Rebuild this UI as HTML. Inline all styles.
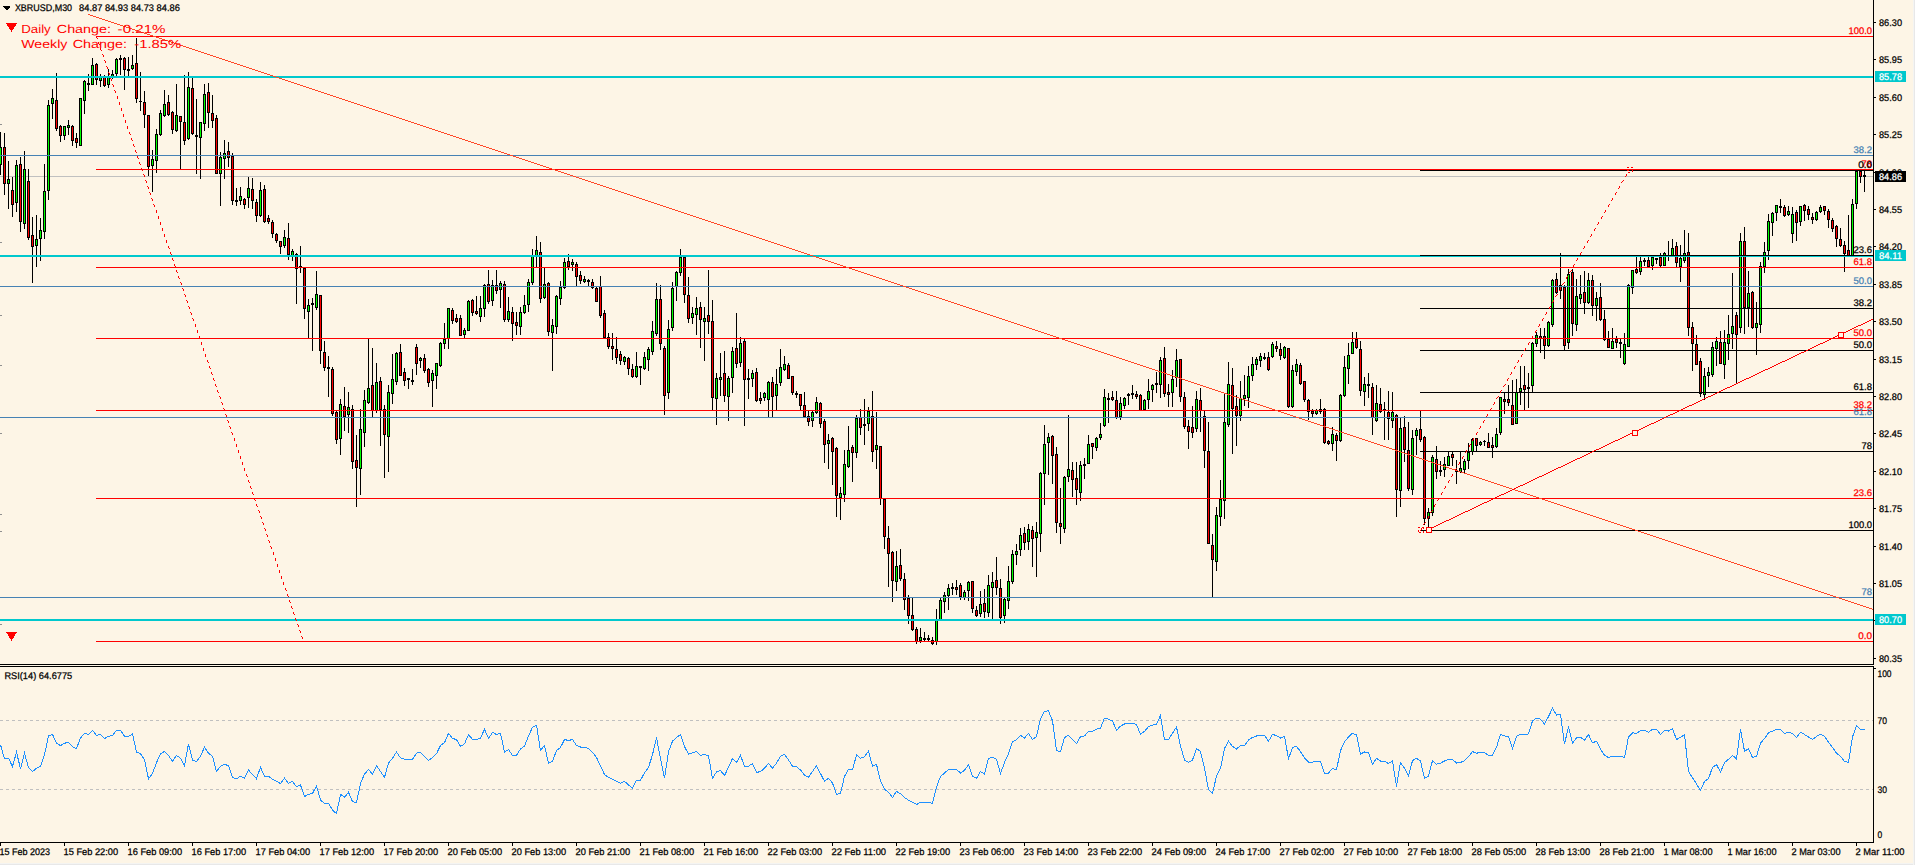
<!DOCTYPE html>
<html><head><meta charset="utf-8"><title>XBRUSD,M30</title>
<style>
html,body{margin:0;padding:0;background:#FDF5E6;overflow:hidden}
svg{display:block;font-family:"Liberation Sans",sans-serif}
</style></head><body>
<svg width="1915" height="865" viewBox="0 0 1915 865" shape-rendering="crispEdges" text-rendering="geometricPrecision">
<rect x="0" y="0" width="1915" height="865" fill="#FDF5E6"/>
<rect x="0" y="176" width="1873" height="1" fill="#C0C0C0"/>
<path d="M0 132h1v43h-1zM4 133h1v62h-1zM8 161h1v48h-1zM12 177h1v40h-1zM16 160h1v52h-1zM20 157h1v75h-1zM24 151h1v78h-1zM28 169h1v71h-1zM32 217h1v66h-1zM36 215h1v52h-1zM40 218h1v43h-1zM44 164h1v75h-1zM48 100h1v100h-1zM52 89h1v30h-1zM56 73h1v58h-1zM60 125h1v17h-1zM64 126h1v14h-1zM68 120h1v15h-1zM72 125h1v21h-1zM76 133h1v15h-1zM80 98h1v48h-1zM84 80h1v34h-1zM88 74h1v17h-1zM92 58h1v27h-1zM96 63h1v22h-1zM100 74h1v13h-1zM104 75h1v12h-1zM108 69h1v19h-1zM112 70h1v9h-1zM116 58h1v19h-1zM120 55h1v20h-1zM124 57h1v33h-1zM128 57h1v20h-1zM132 55h1v15h-1zM136 38h1v65h-1zM140 72h1v39h-1zM144 91h1v37h-1zM148 115h1v61h-1zM152 150h1v42h-1zM156 129h1v44h-1zM160 110h1v26h-1zM164 90h1v27h-1zM168 95h1v21h-1zM172 111h1v23h-1zM176 84h1v48h-1zM180 116h1v54h-1zM184 75h1v70h-1zM188 72h1v68h-1zM192 78h1v57h-1zM196 99h1v75h-1zM200 122h1v57h-1zM204 84h1v47h-1zM208 83h1v45h-1zM212 95h1v33h-1zM216 115h1v59h-1zM220 152h1v54h-1zM224 140h1v39h-1zM228 142h1v25h-1zM232 153h1v52h-1zM236 188h1v18h-1zM240 187h1v18h-1zM244 198h1v11h-1zM248 177h1v31h-1zM252 178h1v31h-1zM256 199h1v23h-1zM260 182h1v35h-1zM264 185h1v38h-1zM268 215h1v9h-1zM272 220h1v18h-1zM276 233h1v10h-1zM280 241h1v13h-1zM284 230h1v18h-1zM288 223h1v37h-1zM292 249h1v12h-1zM296 253h1v51h-1zM300 246h1v27h-1zM304 267h1v52h-1zM308 299h1v40h-1zM312 298h1v53h-1zM316 271h1v39h-1zM320 295h1v69h-1zM324 341h1v30h-1zM328 356h1v41h-1zM332 367h1v49h-1zM336 411h1v33h-1zM340 399h1v56h-1zM344 387h1v44h-1zM348 392h1v41h-1zM352 405h1v64h-1zM356 435h1v72h-1zM360 409h1v86h-1zM364 390h1v57h-1zM368 339h1v65h-1zM372 348h1v70h-1zM376 363h1v50h-1zM380 377h1v69h-1zM384 405h1v73h-1zM388 385h1v87h-1zM392 354h1v50h-1zM396 352h1v33h-1zM400 344h1v32h-1zM404 368h1v18h-1zM408 378h1v11h-1zM412 369h1v16h-1zM416 344h1v31h-1zM420 357h1v11h-1zM424 354h1v19h-1zM428 368h1v19h-1zM432 370h1v37h-1zM436 363h1v26h-1zM440 342h1v25h-1zM444 323h1v26h-1zM448 308h1v41h-1zM452 308h1v16h-1zM456 314h1v9h-1zM460 315h1v21h-1zM464 328h1v11h-1zM468 300h1v31h-1zM472 299h1v17h-1zM476 296h1v19h-1zM480 296h1v26h-1zM484 284h1v33h-1zM488 270h1v34h-1zM492 280h1v26h-1zM496 270h1v24h-1zM500 281h1v27h-1zM504 281h1v41h-1zM508 297h1v25h-1zM512 307h1v34h-1zM516 312h1v23h-1zM520 307h1v28h-1zM524 295h1v19h-1zM528 279h1v33h-1zM532 249h1v36h-1zM536 236h1v32h-1zM540 242h1v61h-1zM544 268h1v31h-1zM548 282h1v54h-1zM552 319h1v52h-1zM556 295h1v39h-1zM560 281h1v24h-1zM564 258h1v31h-1zM568 254h1v16h-1zM572 259h1v12h-1zM576 262h1v25h-1zM580 271h1v13h-1zM584 276h1v7h-1zM588 279h1v7h-1zM592 279h1v10h-1zM596 286h1v16h-1zM600 276h1v42h-1zM604 310h1v29h-1zM608 333h1v16h-1zM612 333h1v27h-1zM616 337h1v27h-1zM620 351h1v14h-1zM624 356h1v9h-1zM628 357h1v18h-1zM632 364h1v14h-1zM636 352h1v26h-1zM640 366h1v19h-1zM644 352h1v18h-1zM648 347h1v24h-1zM652 321h1v34h-1zM656 283h1v53h-1zM660 285h1v65h-1zM664 346h1v69h-1zM668 320h1v79h-1zM672 282h1v49h-1zM676 271h1v30h-1zM680 249h1v27h-1zM684 256h1v47h-1zM688 277h1v46h-1zM692 307h1v17h-1zM696 297h1v38h-1zM700 302h1v46h-1zM704 307h1v54h-1zM708 270h1v64h-1zM712 300h1v111h-1zM716 373h1v52h-1zM720 353h1v43h-1zM724 351h1v51h-1zM728 376h1v45h-1zM732 347h1v46h-1zM736 313h1v55h-1zM740 337h1v30h-1zM744 339h1v87h-1zM748 369h1v30h-1zM752 370h1v17h-1zM756 368h1v34h-1zM760 392h1v12h-1zM764 392h1v9h-1zM768 381h1v37h-1zM772 377h1v40h-1zM776 369h1v42h-1zM780 349h1v37h-1zM784 356h1v15h-1zM788 363h1v16h-1zM792 376h1v19h-1zM796 391h1v7h-1zM800 394h1v17h-1zM804 392h1v26h-1zM808 411h1v15h-1zM812 410h1v17h-1zM816 397h1v17h-1zM820 402h1v26h-1zM824 419h1v44h-1zM828 434h1v35h-1zM832 437h1v48h-1zM836 447h1v70h-1zM840 487h1v33h-1zM844 450h1v52h-1zM848 426h1v42h-1zM852 445h1v37h-1zM856 415h1v43h-1zM860 409h1v26h-1zM864 399h1v46h-1zM868 407h1v24h-1zM872 391h1v71h-1zM876 412h1v57h-1zM880 446h1v59h-1zM884 498h1v51h-1zM888 526h1v61h-1zM892 551h1v51h-1zM896 551h1v40h-1zM900 549h1v32h-1zM904 573h1v37h-1zM908 595h1v29h-1zM912 598h1v33h-1zM916 627h1v17h-1zM920 628h1v15h-1zM924 632h1v10h-1zM928 635h1v7h-1zM932 637h1v8h-1zM936 609h1v36h-1zM940 598h1v23h-1zM944 592h1v21h-1zM948 584h1v26h-1zM952 583h1v12h-1zM956 580h1v15h-1zM960 583h1v17h-1zM964 590h1v10h-1zM968 581h1v20h-1zM972 581h1v32h-1zM976 606h1v11h-1zM980 591h1v26h-1zM984 589h1v29h-1zM988 575h1v42h-1zM992 572h1v48h-1zM996 557h1v38h-1zM1000 579h1v45h-1zM1004 597h1v26h-1zM1008 566h1v43h-1zM1012 550h1v34h-1zM1016 544h1v21h-1zM1020 528h1v28h-1zM1024 527h1v23h-1zM1028 524h1v26h-1zM1032 526h1v41h-1zM1036 522h1v55h-1zM1040 472h1v80h-1zM1044 425h1v80h-1zM1048 433h1v42h-1zM1052 435h1v49h-1zM1056 447h1v86h-1zM1060 488h1v56h-1zM1064 476h1v57h-1zM1068 415h1v67h-1zM1072 462h1v35h-1zM1076 462h1v43h-1zM1080 461h1v40h-1zM1084 458h1v21h-1zM1088 435h1v29h-1zM1092 443h1v16h-1zM1096 437h1v14h-1zM1100 423h1v17h-1zM1104 389h1v38h-1zM1108 393h1v30h-1zM1112 391h1v10h-1zM1116 391h1v28h-1zM1120 397h1v23h-1zM1124 397h1v12h-1zM1128 393h1v12h-1zM1132 385h1v14h-1zM1136 391h1v8h-1zM1140 394h1v17h-1zM1144 399h1v12h-1zM1148 379h1v30h-1zM1152 384h1v18h-1zM1156 372h1v21h-1zM1160 357h1v41h-1zM1164 347h1v50h-1zM1168 384h1v23h-1zM1172 370h1v37h-1zM1176 349h1v38h-1zM1180 359h1v43h-1zM1184 392h1v37h-1zM1188 420h1v29h-1zM1192 406h1v32h-1zM1196 391h1v41h-1zM1200 388h1v44h-1zM1204 410h1v58h-1zM1208 422h1v122h-1zM1212 534h1v64h-1zM1216 507h1v64h-1zM1220 480h1v46h-1zM1224 393h1v126h-1zM1228 362h1v65h-1zM1232 368h1v86h-1zM1236 395h1v51h-1zM1240 381h1v40h-1zM1244 375h1v31h-1zM1248 366h1v42h-1zM1252 357h1v24h-1zM1256 357h1v13h-1zM1260 353h1v14h-1zM1264 353h1v7h-1zM1268 352h1v19h-1zM1272 342h1v16h-1zM1276 341h1v11h-1zM1280 343h1v17h-1zM1284 346h1v13h-1zM1288 348h1v60h-1zM1292 365h1v43h-1zM1296 359h1v17h-1zM1300 363h1v22h-1zM1304 381h1v21h-1zM1308 399h1v21h-1zM1312 409h1v9h-1zM1316 409h1v6h-1zM1320 399h1v15h-1zM1324 408h1v36h-1zM1328 440h1v5h-1zM1332 427h1v24h-1zM1336 433h1v28h-1zM1340 394h1v48h-1zM1344 356h1v41h-1zM1348 343h1v41h-1zM1352 332h1v22h-1zM1356 332h1v17h-1zM1360 341h1v55h-1zM1364 377h1v29h-1zM1368 373h1v25h-1zM1372 383h1v52h-1zM1376 385h1v37h-1zM1380 388h1v25h-1zM1384 402h1v38h-1zM1388 391h1v49h-1zM1392 392h1v36h-1zM1396 414h1v103h-1zM1400 418h1v89h-1zM1404 416h1v46h-1zM1408 422h1v69h-1zM1412 430h1v65h-1zM1416 428h1v27h-1zM1420 411h1v31h-1zM1424 436h1v89h-1zM1428 508h1v21h-1zM1432 455h1v61h-1zM1436 446h1v33h-1zM1440 461h1v15h-1zM1444 457h1v20h-1zM1448 452h1v14h-1zM1452 452h1v14h-1zM1456 460h1v24h-1zM1460 452h1v21h-1zM1464 459h1v15h-1zM1468 443h1v26h-1zM1472 438h1v17h-1zM1476 438h1v13h-1zM1480 441h1v5h-1zM1484 440h1v6h-1zM1488 433h1v15h-1zM1492 437h1v21h-1zM1496 428h1v20h-1zM1500 397h1v38h-1zM1504 392h1v22h-1zM1508 385h1v21h-1zM1512 380h1v45h-1zM1516 379h1v45h-1zM1520 366h1v39h-1zM1524 366h1v45h-1zM1528 373h1v35h-1zM1532 342h1v51h-1zM1536 332h1v15h-1zM1540 328h1v25h-1zM1544 328h1v31h-1zM1548 321h1v26h-1zM1552 279h1v48h-1zM1556 273h1v21h-1zM1560 253h1v46h-1zM1564 285h1v66h-1zM1568 269h1v80h-1zM1572 269h1v67h-1zM1576 279h1v52h-1zM1580 275h1v29h-1zM1584 271h1v43h-1zM1588 273h1v31h-1zM1592 275h1v41h-1zM1596 292h1v29h-1zM1600 283h1v38h-1zM1604 310h1v31h-1zM1608 331h1v17h-1zM1612 328h1v21h-1zM1616 336h1v12h-1zM1620 339h1v19h-1zM1624 333h1v32h-1zM1628 284h1v63h-1zM1632 270h1v24h-1zM1636 257h1v17h-1zM1640 257h1v18h-1zM1644 258h1v8h-1zM1648 257h1v11h-1zM1652 257h1v13h-1zM1656 258h1v6h-1zM1660 253h1v14h-1zM1664 252h1v14h-1zM1668 241h1v20h-1zM1672 239h1v18h-1zM1676 242h1v26h-1zM1680 245h1v37h-1zM1684 230h1v33h-1zM1688 233h1v103h-1zM1692 322h1v49h-1zM1696 335h1v30h-1zM1700 358h1v39h-1zM1704 368h1v32h-1zM1708 367h1v20h-1zM1712 342h1v35h-1zM1716 337h1v29h-1zM1720 331h1v33h-1zM1724 330h1v49h-1zM1728 315h1v45h-1zM1732 273h1v76h-1zM1736 312h1v71h-1zM1740 233h1v100h-1zM1744 227h1v107h-1zM1748 271h1v56h-1zM1752 291h1v38h-1zM1756 302h1v53h-1zM1760 262h1v71h-1zM1764 242h1v31h-1zM1768 214h1v46h-1zM1772 212h1v24h-1zM1776 205h1v16h-1zM1780 199h1v14h-1zM1784 205h1v12h-1zM1788 206h1v10h-1zM1792 207h1v36h-1zM1796 210h1v31h-1zM1800 206h1v20h-1zM1804 204h1v17h-1zM1808 206h1v14h-1zM1812 213h1v11h-1zM1816 211h1v10h-1zM1820 205h1v8h-1zM1824 206h1v9h-1zM1828 209h1v19h-1zM1832 218h1v14h-1zM1836 225h1v22h-1zM1840 228h1v19h-1zM1844 241h1v31h-1zM1848 215h1v41h-1zM1852 199h1v57h-1zM1856 171h1v38h-1zM1860 171h1v12h-1zM1864 171h1v21h-1zM-1 147h3v18h-3zM3 147h3v37h-3zM7 179h3v5h-3zM11 190h3v15h-3zM15 165h3v38h-3zM19 164h3v58h-3zM23 169h3v55h-3zM27 181h3v57h-3zM31 235h3v12h-3zM35 239h3v7h-3zM39 230h3v9h-3zM43 191h3v41h-3zM47 105h3v86h-3zM51 98h3v6h-3zM55 100h3v29h-3zM59 126h3v10h-3zM63 126h3v10h-3zM67 125h3v3h-3zM71 126h3v15h-3zM75 138h3v5h-3zM79 98h3v48h-3zM83 81h3v20h-3zM87 83h3v2h-3zM91 65h3v20h-3zM95 64h3v16h-3zM99 76h3v5h-3zM103 76h3v10h-3zM107 76h3v9h-3zM111 74h3v4h-3zM115 59h3v15h-3zM119 58h3v2h-3zM123 58h3v12h-3zM127 69h3v2h-3zM131 65h3v4h-3zM135 63h3v36h-3zM139 101h3v1h-3zM143 102h3v13h-3zM147 115h3v52h-3zM151 159h3v7h-3zM155 134h3v27h-3zM159 113h3v22h-3zM163 104h3v12h-3zM167 102h3v13h-3zM171 112h3v18h-3zM175 115h3v16h-3zM179 116h3v6h-3zM183 122h3v19h-3zM187 87h3v52h-3zM191 88h3v46h-3zM195 135h3v2h-3zM199 122h3v16h-3zM203 94h3v30h-3zM207 92h3v21h-3zM211 113h3v8h-3zM215 118h3v56h-3zM219 157h3v17h-3zM223 153h3v6h-3zM227 151h3v7h-3zM231 156h3v45h-3zM235 200h3v2h-3zM239 196h3v5h-3zM243 199h3v6h-3zM247 188h3v10h-3zM251 189h3v12h-3zM255 202h3v14h-3zM259 190h3v26h-3zM263 189h3v33h-3zM267 218h3v4h-3zM271 222h3v12h-3zM275 234h3v7h-3zM279 241h3v6h-3zM283 237h3v9h-3zM287 238h3v17h-3zM291 251h3v5h-3zM295 254h3v15h-3zM299 266h3v2h-3zM303 268h3v41h-3zM307 305h3v7h-3zM311 303h3v2h-3zM315 294h3v14h-3zM319 295h3v56h-3zM323 352h3v16h-3zM327 367h3v2h-3zM331 369h3v45h-3zM335 412h3v28h-3zM339 404h3v35h-3zM343 406h3v11h-3zM347 407h3v8h-3zM351 409h3v53h-3zM355 460h3v8h-3zM359 429h3v40h-3zM363 400h3v33h-3zM367 388h3v15h-3zM371 385h3v26h-3zM375 382h3v29h-3zM379 381h3v29h-3zM383 409h3v26h-3zM387 392h3v45h-3zM391 379h3v15h-3zM395 353h3v29h-3zM399 352h3v24h-3zM403 372h3v9h-3zM407 378h3v2h-3zM411 380h3v2h-3zM415 347h3v17h-3zM419 358h3v3h-3zM423 358h3v13h-3zM427 369h3v14h-3zM431 373h3v8h-3zM435 363h3v13h-3zM439 343h3v23h-3zM443 339h3v5h-3zM447 308h3v31h-3zM451 310h3v11h-3zM455 318h3v4h-3zM459 318h3v18h-3zM463 330h3v5h-3zM467 301h3v30h-3zM471 300h3v13h-3zM475 311h3v3h-3zM479 308h3v9h-3zM483 285h3v24h-3zM487 284h3v18h-3zM491 285h3v16h-3zM495 285h3v6h-3zM499 283h3v7h-3zM503 284h3v36h-3zM507 311h3v9h-3zM511 312h3v12h-3zM515 322h3v4h-3zM519 312h3v15h-3zM523 305h3v8h-3zM527 282h3v23h-3zM531 256h3v27h-3zM535 250h3v7h-3zM539 252h3v47h-3zM543 284h3v14h-3zM547 283h3v49h-3zM551 325h3v8h-3zM555 296h3v31h-3zM559 287h3v12h-3zM563 262h3v26h-3zM567 261h3v6h-3zM571 262h3v3h-3zM575 264h3v13h-3zM579 275h3v6h-3zM583 279h3v3h-3zM587 280h3v2h-3zM591 282h3v6h-3zM595 288h3v14h-3zM599 286h3v30h-3zM603 313h3v25h-3zM607 337h3v10h-3zM611 346h3v3h-3zM615 349h3v9h-3zM619 354h3v7h-3zM623 357h3v5h-3zM627 358h3v11h-3zM631 369h3v8h-3zM635 366h3v11h-3zM639 366h3v2h-3zM643 357h3v12h-3zM647 349h3v11h-3zM651 331h3v21h-3zM655 299h3v35h-3zM659 299h3v45h-3zM663 348h3v48h-3zM667 329h3v64h-3zM671 288h3v40h-3zM675 272h3v15h-3zM679 257h3v16h-3zM683 257h3v38h-3zM687 295h3v24h-3zM691 313h3v5h-3zM695 308h3v7h-3zM699 307h3v13h-3zM703 318h3v4h-3zM707 315h3v7h-3zM711 321h3v77h-3zM715 378h3v21h-3zM719 377h3v3h-3zM723 373h3v23h-3zM727 378h3v19h-3zM731 351h3v27h-3zM735 348h3v16h-3zM739 343h3v20h-3zM743 341h3v39h-3zM747 378h3v2h-3zM751 373h3v6h-3zM755 372h3v29h-3zM759 398h3v3h-3zM763 393h3v5h-3zM767 382h3v18h-3zM771 382h3v15h-3zM775 384h3v12h-3zM779 367h3v16h-3zM783 364h3v6h-3zM787 365h3v14h-3zM791 376h3v17h-3zM795 393h3v2h-3zM799 394h3v12h-3zM803 405h3v12h-3zM807 416h3v6h-3zM811 412h3v9h-3zM815 402h3v11h-3zM819 403h3v21h-3zM823 421h3v24h-3zM827 440h3v4h-3zM831 438h3v14h-3zM835 448h3v48h-3zM839 493h3v5h-3zM843 464h3v31h-3zM847 450h3v17h-3zM851 447h3v6h-3zM855 418h3v35h-3zM859 417h3v11h-3zM863 424h3v2h-3zM867 411h3v13h-3zM871 416h3v36h-3zM875 445h3v5h-3zM879 446h3v53h-3zM883 499h3v38h-3zM887 538h3v16h-3zM891 552h3v29h-3zM895 566h3v16h-3zM899 565h3v14h-3zM903 579h3v21h-3zM907 598h3v18h-3zM911 615h3v15h-3zM915 629h3v13h-3zM919 637h3v4h-3zM923 638h3v2h-3zM927 638h3v2h-3zM931 640h3v4h-3zM935 620h3v22h-3zM939 600h3v20h-3zM943 595h3v7h-3zM947 588h3v8h-3zM951 587h3v2h-3zM955 587h3v3h-3zM959 585h3v12h-3zM963 592h3v6h-3zM967 582h3v9h-3zM971 581h3v28h-3zM975 610h3v6h-3zM979 604h3v10h-3zM983 603h3v9h-3zM987 585h3v28h-3zM991 582h3v6h-3zM995 580h3v8h-3zM999 588h3v30h-3zM1003 599h3v17h-3zM1007 581h3v20h-3zM1011 554h3v28h-3zM1015 551h3v4h-3zM1019 535h3v15h-3zM1023 533h3v10h-3zM1027 529h3v13h-3zM1031 530h3v9h-3zM1035 532h3v6h-3zM1039 473h3v61h-3zM1043 444h3v30h-3zM1047 437h3v6h-3zM1051 436h3v20h-3zM1055 454h3v69h-3zM1059 523h3v4h-3zM1063 477h3v52h-3zM1067 469h3v8h-3zM1071 470h3v10h-3zM1075 478h3v12h-3zM1079 465h3v28h-3zM1083 464h3v2h-3zM1087 444h3v20h-3zM1091 443h3v4h-3zM1095 438h3v10h-3zM1099 434h3v4h-3zM1103 397h3v29h-3zM1107 398h3v2h-3zM1111 397h3v3h-3zM1115 400h3v18h-3zM1119 403h3v14h-3zM1123 398h3v8h-3zM1127 394h3v2h-3zM1131 393h3v2h-3zM1135 394h3v3h-3zM1139 395h3v16h-3zM1143 400h3v10h-3zM1147 391h3v9h-3zM1151 385h3v5h-3zM1155 383h3v2h-3zM1159 360h3v25h-3zM1163 358h3v36h-3zM1167 392h3v3h-3zM1171 379h3v14h-3zM1175 360h3v18h-3zM1179 359h3v38h-3zM1183 397h3v30h-3zM1187 426h3v6h-3zM1191 427h3v6h-3zM1195 399h3v30h-3zM1199 400h3v11h-3zM1203 416h3v35h-3zM1207 451h3v93h-3zM1211 545h3v15h-3zM1215 515h3v47h-3zM1219 499h3v18h-3zM1223 422h3v79h-3zM1227 384h3v41h-3zM1231 385h3v24h-3zM1235 406h3v10h-3zM1239 398h3v18h-3zM1243 395h3v4h-3zM1247 376h3v22h-3zM1251 364h3v12h-3zM1255 359h3v6h-3zM1259 356h3v5h-3zM1263 357h3v2h-3zM1267 357h3v13h-3zM1271 344h3v13h-3zM1275 346h3v3h-3zM1279 349h3v7h-3zM1283 347h3v11h-3zM1287 348h3v59h-3zM1291 370h3v37h-3zM1295 364h3v8h-3zM1299 365h3v19h-3zM1303 381h3v19h-3zM1307 400h3v12h-3zM1311 411h3v3h-3zM1315 410h3v4h-3zM1319 409h3v3h-3zM1323 409h3v34h-3zM1327 441h3v3h-3zM1331 434h3v10h-3zM1335 435h3v6h-3zM1339 395h3v46h-3zM1343 367h3v29h-3zM1347 355h3v14h-3zM1351 342h3v12h-3zM1355 339h3v9h-3zM1359 349h3v42h-3zM1363 384h3v8h-3zM1367 384h3v2h-3zM1371 387h3v31h-3zM1375 403h3v18h-3zM1379 404h3v8h-3zM1383 409h3v2h-3zM1387 412h3v7h-3zM1391 412h3v9h-3zM1395 415h3v75h-3zM1399 428h3v63h-3zM1403 427h3v23h-3zM1407 450h3v39h-3zM1411 438h3v52h-3zM1415 430h3v6h-3zM1419 429h3v11h-3zM1423 437h3v82h-3zM1427 512h3v7h-3zM1431 457h3v56h-3zM1435 459h3v13h-3zM1439 470h3v2h-3zM1443 464h3v6h-3zM1447 456h3v10h-3zM1451 454h3v4h-3zM1455 470h3v2h-3zM1459 468h3v4h-3zM1463 461h3v9h-3zM1467 452h3v9h-3zM1471 439h3v13h-3zM1475 438h3v8h-3zM1479 442h3v3h-3zM1483 441h3v1h-3zM1487 442h3v6h-3zM1491 445h3v3h-3zM1495 434h3v13h-3zM1499 397h3v36h-3zM1503 399h3v3h-3zM1507 399h3v4h-3zM1511 405h3v20h-3zM1515 392h3v32h-3zM1519 388h3v4h-3zM1523 385h3v5h-3zM1527 387h3v2h-3zM1531 343h3v43h-3zM1535 335h3v9h-3zM1539 336h3v3h-3zM1543 336h3v10h-3zM1547 322h3v24h-3zM1551 280h3v45h-3zM1555 279h3v14h-3zM1559 285h3v6h-3zM1563 287h3v59h-3zM1567 274h3v69h-3zM1571 272h3v52h-3zM1575 296h3v29h-3zM1579 294h3v5h-3zM1583 292h3v11h-3zM1587 280h3v23h-3zM1591 280h3v26h-3zM1595 298h3v8h-3zM1599 297h3v23h-3zM1603 319h3v21h-3zM1607 339h3v9h-3zM1611 341h3v8h-3zM1615 339h3v4h-3zM1619 342h3v2h-3zM1623 344h3v20h-3zM1627 285h3v62h-3zM1631 270h3v18h-3zM1635 269h3v4h-3zM1639 261h3v11h-3zM1643 260h3v2h-3zM1647 260h3v7h-3zM1651 257h3v9h-3zM1655 258h3v2h-3zM1659 257h3v9h-3zM1663 253h3v13h-3zM1667 255h3v2h-3zM1671 248h3v8h-3zM1675 246h3v17h-3zM1679 258h3v9h-3zM1683 253h3v8h-3zM1687 252h3v76h-3zM1691 327h3v17h-3zM1695 344h3v21h-3zM1699 361h3v33h-3zM1703 376h3v19h-3zM1707 372h3v4h-3zM1711 347h3v28h-3zM1715 341h3v8h-3zM1719 342h3v22h-3zM1723 342h3v23h-3zM1727 334h3v10h-3zM1731 326h3v8h-3zM1735 315h3v20h-3zM1739 241h3v87h-3zM1743 241h3v67h-3zM1747 293h3v15h-3zM1751 292h3v36h-3zM1755 323h3v5h-3zM1759 266h3v59h-3zM1763 252h3v15h-3zM1767 221h3v30h-3zM1771 213h3v10h-3zM1775 205h3v8h-3zM1779 206h3v2h-3zM1783 207h3v9h-3zM1787 211h3v4h-3zM1791 214h3v20h-3zM1795 212h3v11h-3zM1799 206h3v16h-3zM1803 205h3v6h-3zM1807 209h3v6h-3zM1811 217h3v3h-3zM1815 212h3v8h-3zM1819 207h3v5h-3zM1823 206h3v5h-3zM1827 211h3v9h-3zM1831 220h3v9h-3zM1835 226h3v13h-3zM1839 239h3v7h-3zM1843 245h3v9h-3zM1847 250h3v6h-3zM1851 204h3v52h-3zM1855 171h3v33h-3zM1859 171h3v6h-3zM1863 175h3v2h-3z" fill="#000"/>
<path d="M0 148h1v16h-1zM8 180h1v3h-1zM16 166h1v36h-1zM24 170h1v53h-1zM36 240h1v5h-1zM40 231h1v7h-1zM44 192h1v39h-1zM48 106h1v84h-1zM52 99h1v4h-1zM64 127h1v8h-1zM68 126h1v1h-1zM80 99h1v46h-1zM84 82h1v18h-1zM92 66h1v18h-1zM100 77h1v3h-1zM108 77h1v7h-1zM112 75h1v2h-1zM116 60h1v13h-1zM132 66h1v2h-1zM152 160h1v5h-1zM156 135h1v25h-1zM160 114h1v20h-1zM164 105h1v10h-1zM176 116h1v14h-1zM188 88h1v50h-1zM200 123h1v14h-1zM204 95h1v28h-1zM220 158h1v15h-1zM224 154h1v4h-1zM240 197h1v3h-1zM248 189h1v8h-1zM260 191h1v24h-1zM284 238h1v7h-1zM292 252h1v3h-1zM308 306h1v5h-1zM316 295h1v12h-1zM340 405h1v33h-1zM348 408h1v6h-1zM360 430h1v38h-1zM364 401h1v31h-1zM368 389h1v13h-1zM376 383h1v27h-1zM388 393h1v43h-1zM392 380h1v13h-1zM396 354h1v27h-1zM420 359h1v1h-1zM432 374h1v6h-1zM436 364h1v11h-1zM440 344h1v21h-1zM444 340h1v3h-1zM448 309h1v29h-1zM464 331h1v3h-1zM468 302h1v28h-1zM480 309h1v7h-1zM484 286h1v22h-1zM492 286h1v14h-1zM500 284h1v5h-1zM508 312h1v7h-1zM520 313h1v13h-1zM524 306h1v6h-1zM528 283h1v21h-1zM532 257h1v25h-1zM536 251h1v5h-1zM544 285h1v12h-1zM552 326h1v6h-1zM556 297h1v29h-1zM560 288h1v10h-1zM564 263h1v24h-1zM572 263h1v1h-1zM584 280h1v1h-1zM624 358h1v3h-1zM636 367h1v9h-1zM644 358h1v10h-1zM648 350h1v9h-1zM652 332h1v19h-1zM656 300h1v33h-1zM668 330h1v62h-1zM672 289h1v38h-1zM676 273h1v13h-1zM680 258h1v14h-1zM692 314h1v3h-1zM696 309h1v5h-1zM704 319h1v2h-1zM716 379h1v19h-1zM720 378h1v1h-1zM728 379h1v17h-1zM732 352h1v25h-1zM740 344h1v18h-1zM752 374h1v4h-1zM764 394h1v3h-1zM768 383h1v16h-1zM776 385h1v10h-1zM780 368h1v14h-1zM784 365h1v4h-1zM812 413h1v7h-1zM816 403h1v9h-1zM828 441h1v2h-1zM840 494h1v3h-1zM844 465h1v29h-1zM848 451h1v15h-1zM856 419h1v33h-1zM868 412h1v11h-1zM876 446h1v3h-1zM896 567h1v14h-1zM920 638h1v2h-1zM936 621h1v20h-1zM940 601h1v18h-1zM944 596h1v5h-1zM948 589h1v6h-1zM964 593h1v4h-1zM968 583h1v7h-1zM980 605h1v8h-1zM988 586h1v26h-1zM992 583h1v4h-1zM1004 600h1v15h-1zM1008 582h1v18h-1zM1012 555h1v26h-1zM1016 552h1v2h-1zM1020 536h1v13h-1zM1028 530h1v11h-1zM1036 533h1v4h-1zM1040 474h1v59h-1zM1044 445h1v28h-1zM1048 438h1v4h-1zM1064 478h1v50h-1zM1068 470h1v6h-1zM1080 466h1v26h-1zM1088 445h1v18h-1zM1096 439h1v8h-1zM1100 435h1v2h-1zM1104 398h1v27h-1zM1120 404h1v12h-1zM1124 399h1v6h-1zM1144 401h1v8h-1zM1148 392h1v7h-1zM1152 386h1v3h-1zM1160 361h1v23h-1zM1172 380h1v12h-1zM1176 361h1v16h-1zM1196 400h1v28h-1zM1216 516h1v45h-1zM1220 500h1v16h-1zM1224 423h1v77h-1zM1228 385h1v39h-1zM1240 399h1v16h-1zM1244 396h1v2h-1zM1248 377h1v20h-1zM1252 365h1v10h-1zM1256 360h1v4h-1zM1260 357h1v3h-1zM1272 345h1v11h-1zM1284 348h1v9h-1zM1292 371h1v35h-1zM1296 365h1v6h-1zM1316 411h1v2h-1zM1332 435h1v8h-1zM1340 396h1v44h-1zM1344 368h1v27h-1zM1348 356h1v12h-1zM1352 343h1v10h-1zM1364 385h1v6h-1zM1376 404h1v16h-1zM1392 413h1v7h-1zM1400 429h1v61h-1zM1412 439h1v50h-1zM1416 431h1v4h-1zM1428 513h1v5h-1zM1432 458h1v54h-1zM1444 465h1v4h-1zM1448 457h1v8h-1zM1460 469h1v2h-1zM1464 462h1v7h-1zM1468 453h1v7h-1zM1472 440h1v11h-1zM1480 443h1v1h-1zM1496 435h1v11h-1zM1500 398h1v34h-1zM1516 393h1v30h-1zM1520 389h1v2h-1zM1532 344h1v41h-1zM1536 336h1v7h-1zM1548 323h1v22h-1zM1552 281h1v43h-1zM1568 275h1v67h-1zM1576 297h1v27h-1zM1580 295h1v3h-1zM1588 281h1v21h-1zM1596 299h1v6h-1zM1612 342h1v6h-1zM1624 345h1v18h-1zM1628 286h1v60h-1zM1632 271h1v16h-1zM1640 262h1v9h-1zM1652 258h1v7h-1zM1664 254h1v11h-1zM1672 249h1v6h-1zM1680 259h1v7h-1zM1684 254h1v6h-1zM1704 377h1v17h-1zM1708 373h1v2h-1zM1712 348h1v26h-1zM1716 342h1v6h-1zM1724 343h1v21h-1zM1728 335h1v8h-1zM1732 327h1v6h-1zM1740 242h1v85h-1zM1748 294h1v13h-1zM1756 324h1v3h-1zM1760 267h1v57h-1zM1764 253h1v13h-1zM1768 222h1v28h-1zM1772 214h1v8h-1zM1776 206h1v6h-1zM1788 212h1v2h-1zM1792 215h1v18h-1zM1800 207h1v14h-1zM1816 213h1v6h-1zM1820 208h1v3h-1zM1852 205h1v50h-1zM1856 172h1v31h-1z" fill="#00FF00"/>
<path d="M4 148h1v35h-1zM12 191h1v13h-1zM20 165h1v56h-1zM28 182h1v55h-1zM32 236h1v10h-1zM56 101h1v27h-1zM60 127h1v8h-1zM72 127h1v13h-1zM76 139h1v3h-1zM96 65h1v14h-1zM104 77h1v8h-1zM124 59h1v10h-1zM136 64h1v34h-1zM144 103h1v11h-1zM148 116h1v50h-1zM168 103h1v11h-1zM172 113h1v16h-1zM180 117h1v4h-1zM184 123h1v17h-1zM192 89h1v44h-1zM208 93h1v19h-1zM212 114h1v6h-1zM216 119h1v54h-1zM228 152h1v5h-1zM232 157h1v43h-1zM244 200h1v4h-1zM252 190h1v10h-1zM256 203h1v12h-1zM264 190h1v31h-1zM268 219h1v2h-1zM272 223h1v10h-1zM276 235h1v5h-1zM280 242h1v4h-1zM288 239h1v15h-1zM296 255h1v13h-1zM304 269h1v39h-1zM320 296h1v54h-1zM324 353h1v14h-1zM332 370h1v43h-1zM336 413h1v26h-1zM344 407h1v9h-1zM352 410h1v51h-1zM356 461h1v6h-1zM372 386h1v24h-1zM380 382h1v27h-1zM384 410h1v24h-1zM400 353h1v22h-1zM404 373h1v7h-1zM416 348h1v15h-1zM424 359h1v11h-1zM428 370h1v12h-1zM452 311h1v9h-1zM456 319h1v2h-1zM460 319h1v16h-1zM472 301h1v11h-1zM476 312h1v1h-1zM488 285h1v16h-1zM496 286h1v4h-1zM504 285h1v34h-1zM512 313h1v10h-1zM516 323h1v2h-1zM540 253h1v45h-1zM548 284h1v47h-1zM568 262h1v4h-1zM576 265h1v11h-1zM580 276h1v4h-1zM592 283h1v4h-1zM596 289h1v12h-1zM600 287h1v28h-1zM604 314h1v23h-1zM608 338h1v8h-1zM612 347h1v1h-1zM616 350h1v7h-1zM620 355h1v5h-1zM628 359h1v9h-1zM632 370h1v6h-1zM660 300h1v43h-1zM664 349h1v46h-1zM684 258h1v36h-1zM688 296h1v22h-1zM700 308h1v11h-1zM708 316h1v5h-1zM712 322h1v75h-1zM724 374h1v21h-1zM736 349h1v14h-1zM744 342h1v37h-1zM756 373h1v27h-1zM760 399h1v1h-1zM772 383h1v13h-1zM788 366h1v12h-1zM792 377h1v15h-1zM800 395h1v10h-1zM804 406h1v10h-1zM808 417h1v4h-1zM820 404h1v19h-1zM824 422h1v22h-1zM832 439h1v12h-1zM836 449h1v46h-1zM852 448h1v4h-1zM860 418h1v9h-1zM872 417h1v34h-1zM880 447h1v51h-1zM884 500h1v36h-1zM888 539h1v14h-1zM892 553h1v27h-1zM900 566h1v12h-1zM904 580h1v19h-1zM908 599h1v16h-1zM912 616h1v13h-1zM916 630h1v11h-1zM932 641h1v2h-1zM956 588h1v1h-1zM960 586h1v10h-1zM972 582h1v26h-1zM976 611h1v4h-1zM984 604h1v7h-1zM996 581h1v6h-1zM1000 589h1v28h-1zM1024 534h1v8h-1zM1032 531h1v7h-1zM1052 437h1v18h-1zM1056 455h1v67h-1zM1060 524h1v2h-1zM1072 471h1v8h-1zM1076 479h1v10h-1zM1092 444h1v2h-1zM1112 398h1v1h-1zM1116 401h1v16h-1zM1136 395h1v1h-1zM1140 396h1v14h-1zM1164 359h1v34h-1zM1168 393h1v1h-1zM1180 360h1v36h-1zM1184 398h1v28h-1zM1188 427h1v4h-1zM1192 428h1v4h-1zM1200 401h1v9h-1zM1204 417h1v33h-1zM1208 452h1v91h-1zM1212 546h1v13h-1zM1232 386h1v22h-1zM1236 407h1v8h-1zM1268 358h1v11h-1zM1276 347h1v1h-1zM1280 350h1v5h-1zM1288 349h1v57h-1zM1300 366h1v17h-1zM1304 382h1v17h-1zM1308 401h1v10h-1zM1312 412h1v1h-1zM1320 410h1v1h-1zM1324 410h1v32h-1zM1328 442h1v1h-1zM1336 436h1v4h-1zM1356 340h1v7h-1zM1360 350h1v40h-1zM1372 388h1v29h-1zM1380 405h1v6h-1zM1388 413h1v5h-1zM1396 416h1v73h-1zM1404 428h1v21h-1zM1408 451h1v37h-1zM1420 430h1v9h-1zM1424 438h1v80h-1zM1436 460h1v11h-1zM1452 455h1v2h-1zM1476 439h1v6h-1zM1488 443h1v4h-1zM1492 446h1v1h-1zM1504 400h1v1h-1zM1508 400h1v2h-1zM1512 406h1v18h-1zM1524 386h1v3h-1zM1540 337h1v1h-1zM1544 337h1v8h-1zM1556 280h1v12h-1zM1560 286h1v4h-1zM1564 288h1v57h-1zM1572 273h1v50h-1zM1584 293h1v9h-1zM1592 281h1v24h-1zM1600 298h1v21h-1zM1604 320h1v19h-1zM1608 340h1v7h-1zM1616 340h1v2h-1zM1636 270h1v2h-1zM1648 261h1v5h-1zM1660 258h1v7h-1zM1676 247h1v15h-1zM1688 253h1v74h-1zM1692 328h1v15h-1zM1696 345h1v19h-1zM1700 362h1v31h-1zM1720 343h1v20h-1zM1736 316h1v18h-1zM1744 242h1v65h-1zM1752 293h1v34h-1zM1784 208h1v7h-1zM1796 213h1v9h-1zM1804 206h1v4h-1zM1808 210h1v4h-1zM1812 218h1v1h-1zM1824 207h1v3h-1zM1828 212h1v7h-1zM1832 221h1v7h-1zM1836 227h1v11h-1zM1840 240h1v5h-1zM1844 246h1v7h-1zM1848 251h1v4h-1zM1860 172h1v4h-1z" fill="#FF0000"/>
<rect x="0" y="155" width="1873" height="1" fill="#4682B4"/>
<rect x="0" y="286" width="1873" height="1" fill="#4682B4"/>
<rect x="0" y="417" width="1873" height="1" fill="#4682B4"/>
<rect x="0" y="597" width="1873" height="1" fill="#4682B4"/>
<rect x="0" y="76" width="1873" height="2" fill="#00C8CD"/>
<rect x="0" y="255" width="1873" height="2" fill="#00C8CD"/>
<rect x="0" y="619" width="1873" height="2" fill="#00C8CD"/>
<rect x="96" y="36" width="1777" height="1" fill="#FF0000"/>
<rect x="96" y="169" width="1777" height="1" fill="#FF0000"/>
<rect x="96" y="267" width="1777" height="1" fill="#FF0000"/>
<rect x="96" y="338" width="1777" height="1" fill="#FF0000"/>
<rect x="96" y="410" width="1777" height="1" fill="#FF0000"/>
<rect x="96" y="498" width="1777" height="1" fill="#FF0000"/>
<rect x="96" y="641" width="1777" height="1" fill="#FF0000"/>
<rect x="1420" y="170" width="453" height="1" fill="#000"/>
<rect x="1420" y="255" width="453" height="1" fill="#000"/>
<rect x="1420" y="308" width="453" height="1" fill="#000"/>
<rect x="1420" y="350" width="453" height="1" fill="#000"/>
<rect x="1420" y="392" width="453" height="1" fill="#000"/>
<rect x="1420" y="451" width="453" height="1" fill="#000"/>
<rect x="1420" y="530" width="453" height="1" fill="#000"/>
<path d="M88 14h2v1h-2zM90 15h3v1h-3zM93 16h3v1h-3zM96 17h3v1h-3zM99 18h3v1h-3zM102 19h3v1h-3zM105 20h3v1h-3zM108 21h3v1h-3zM111 22h3v1h-3zM114 23h3v1h-3zM117 24h3v1h-3zM120 25h3v1h-3zM123 26h3v1h-3zM126 27h3v1h-3zM129 28h3v1h-3zM132 29h3v1h-3zM135 30h3v1h-3zM138 31h3v1h-3zM141 32h3v1h-3zM144 33h3v1h-3zM147 34h3v1h-3zM150 35h3v1h-3zM153 36h3v1h-3zM156 37h3v1h-3zM159 38h3v1h-3zM162 39h3v1h-3zM165 40h3v1h-3zM168 41h3v1h-3zM171 42h3v1h-3zM174 43h3v1h-3zM177 44h3v1h-3zM180 45h3v1h-3zM183 46h3v1h-3zM186 47h3v1h-3zM189 48h3v1h-3zM192 49h3v1h-3zM195 50h3v1h-3zM198 51h3v1h-3zM201 52h3v1h-3zM204 53h3v1h-3zM207 54h3v1h-3zM210 55h3v1h-3zM213 56h3v1h-3zM216 57h3v1h-3zM219 58h3v1h-3zM222 59h3v1h-3zM225 60h3v1h-3zM228 61h3v1h-3zM231 62h3v1h-3zM234 63h3v1h-3zM237 64h3v1h-3zM240 65h3v1h-3zM243 66h3v1h-3zM246 67h3v1h-3zM249 68h3v1h-3zM252 69h3v1h-3zM255 70h3v1h-3zM258 71h3v1h-3zM261 72h3v1h-3zM264 73h3v1h-3zM267 74h3v1h-3zM270 75h3v1h-3zM273 76h3v1h-3zM276 77h3v1h-3zM279 78h3v1h-3zM282 79h3v1h-3zM285 80h3v1h-3zM288 81h3v1h-3zM291 82h3v1h-3zM294 83h3v1h-3zM297 84h3v1h-3zM300 85h3v1h-3zM303 86h3v1h-3zM306 87h3v1h-3zM309 88h3v1h-3zM312 89h3v1h-3zM315 90h3v1h-3zM318 91h3v1h-3zM321 92h3v1h-3zM324 93h3v1h-3zM327 94h3v1h-3zM330 95h3v1h-3zM333 96h3v1h-3zM336 97h3v1h-3zM339 98h3v1h-3zM342 99h3v1h-3zM345 100h3v1h-3zM348 101h3v1h-3zM351 102h3v1h-3zM354 103h3v1h-3zM357 104h3v1h-3zM360 105h3v1h-3zM363 106h3v1h-3zM366 107h3v1h-3zM369 108h3v1h-3zM372 109h3v1h-3zM375 110h3v1h-3zM378 111h3v1h-3zM381 112h3v1h-3zM384 113h3v1h-3zM387 114h3v1h-3zM390 115h3v1h-3zM393 116h3v1h-3zM396 117h3v1h-3zM399 118h3v1h-3zM402 119h3v1h-3zM405 120h3v1h-3zM408 121h3v1h-3zM411 122h3v1h-3zM414 123h3v1h-3zM417 124h3v1h-3zM420 125h3v1h-3zM423 126h3v1h-3zM426 127h3v1h-3zM429 128h3v1h-3zM432 129h3v1h-3zM435 130h3v1h-3zM438 131h3v1h-3zM441 132h3v1h-3zM444 133h3v1h-3zM447 134h3v1h-3zM450 135h3v1h-3zM453 136h3v1h-3zM456 137h3v1h-3zM459 138h3v1h-3zM462 139h3v1h-3zM465 140h3v1h-3zM468 141h3v1h-3zM471 142h3v1h-3zM474 143h3v1h-3zM477 144h3v1h-3zM480 145h3v1h-3zM483 146h3v1h-3zM486 147h3v1h-3zM489 148h3v1h-3zM492 149h3v1h-3zM495 150h3v1h-3zM498 151h3v1h-3zM501 152h3v1h-3zM504 153h3v1h-3zM507 154h3v1h-3zM510 155h3v1h-3zM513 156h3v1h-3zM516 157h3v1h-3zM519 158h3v1h-3zM522 159h3v1h-3zM525 160h3v1h-3zM528 161h3v1h-3zM531 162h3v1h-3zM534 163h3v1h-3zM537 164h3v1h-3zM540 165h3v1h-3zM543 166h3v1h-3zM546 167h3v1h-3zM549 168h3v1h-3zM552 169h3v1h-3zM555 170h3v1h-3zM558 171h3v1h-3zM561 172h3v1h-3zM564 173h3v1h-3zM567 174h3v1h-3zM570 175h3v1h-3zM573 176h3v1h-3zM576 177h3v1h-3zM579 178h3v1h-3zM582 179h3v1h-3zM585 180h3v1h-3zM588 181h3v1h-3zM591 182h3v1h-3zM594 183h3v1h-3zM597 184h3v1h-3zM600 185h3v1h-3zM603 186h3v1h-3zM606 187h3v1h-3zM609 188h3v1h-3zM612 189h3v1h-3zM615 190h3v1h-3zM618 191h3v1h-3zM621 192h3v1h-3zM624 193h3v1h-3zM627 194h3v1h-3zM630 195h3v1h-3zM633 196h3v1h-3zM636 197h3v1h-3zM639 198h3v1h-3zM642 199h3v1h-3zM645 200h3v1h-3zM648 201h3v1h-3zM651 202h3v1h-3zM654 203h3v1h-3zM657 204h3v1h-3zM660 205h3v1h-3zM663 206h3v1h-3zM666 207h3v1h-3zM669 208h3v1h-3zM672 209h3v1h-3zM675 210h3v1h-3zM678 211h3v1h-3zM681 212h3v1h-3zM684 213h3v1h-3zM687 214h3v1h-3zM690 215h3v1h-3zM693 216h3v1h-3zM696 217h3v1h-3zM699 218h3v1h-3zM702 219h3v1h-3zM705 220h3v1h-3zM708 221h3v1h-3zM711 222h3v1h-3zM714 223h3v1h-3zM717 224h3v1h-3zM720 225h3v1h-3zM723 226h3v1h-3zM726 227h3v1h-3zM729 228h3v1h-3zM732 229h3v1h-3zM735 230h3v1h-3zM738 231h3v1h-3zM741 232h3v1h-3zM744 233h3v1h-3zM747 234h3v1h-3zM750 235h3v1h-3zM753 236h3v1h-3zM756 237h3v1h-3zM759 238h3v1h-3zM762 239h3v1h-3zM765 240h3v1h-3zM768 241h3v1h-3zM771 242h3v1h-3zM774 243h3v1h-3zM777 244h3v1h-3zM780 245h3v1h-3zM783 246h3v1h-3zM786 247h3v1h-3zM789 248h3v1h-3zM792 249h3v1h-3zM795 250h3v1h-3zM798 251h3v1h-3zM801 252h3v1h-3zM804 253h3v1h-3zM807 254h3v1h-3zM810 255h3v1h-3zM813 256h3v1h-3zM816 257h3v1h-3zM819 258h3v1h-3zM822 259h3v1h-3zM825 260h3v1h-3zM828 261h3v1h-3zM831 262h3v1h-3zM834 263h3v1h-3zM837 264h3v1h-3zM840 265h3v1h-3zM843 266h3v1h-3zM846 267h3v1h-3zM849 268h3v1h-3zM852 269h3v1h-3zM855 270h3v1h-3zM858 271h3v1h-3zM861 272h3v1h-3zM864 273h3v1h-3zM867 274h3v1h-3zM870 275h3v1h-3zM873 276h3v1h-3zM876 277h3v1h-3zM879 278h3v1h-3zM882 279h3v1h-3zM885 280h3v1h-3zM888 281h3v1h-3zM891 282h3v1h-3zM894 283h3v1h-3zM897 284h3v1h-3zM900 285h3v1h-3zM903 286h3v1h-3zM906 287h3v1h-3zM909 288h3v1h-3zM912 289h3v1h-3zM915 290h3v1h-3zM918 291h3v1h-3zM921 292h3v1h-3zM924 293h3v1h-3zM927 294h3v1h-3zM930 295h3v1h-3zM933 296h3v1h-3zM936 297h3v1h-3zM939 298h3v1h-3zM942 299h3v1h-3zM945 300h3v1h-3zM948 301h3v1h-3zM951 302h3v1h-3zM954 303h3v1h-3zM957 304h3v1h-3zM960 305h3v1h-3zM963 306h3v1h-3zM966 307h3v1h-3zM969 308h3v1h-3zM972 309h3v1h-3zM975 310h3v1h-3zM978 311h3v1h-3zM981 312h3v1h-3zM984 313h3v1h-3zM987 314h3v1h-3zM990 315h3v1h-3zM993 316h3v1h-3zM996 317h3v1h-3zM999 318h3v1h-3zM1002 319h3v1h-3zM1005 320h3v1h-3zM1008 321h3v1h-3zM1011 322h3v1h-3zM1014 323h3v1h-3zM1017 324h3v1h-3zM1020 325h3v1h-3zM1023 326h3v1h-3zM1026 327h3v1h-3zM1029 328h3v1h-3zM1032 329h3v1h-3zM1035 330h3v1h-3zM1038 331h3v1h-3zM1041 332h3v1h-3zM1044 333h3v1h-3zM1047 334h3v1h-3zM1050 335h3v1h-3zM1053 336h3v1h-3zM1056 337h3v1h-3zM1059 338h3v1h-3zM1062 339h3v1h-3zM1065 340h3v1h-3zM1068 341h3v1h-3zM1071 342h3v1h-3zM1074 343h3v1h-3zM1077 344h3v1h-3zM1080 345h3v1h-3zM1083 346h3v1h-3zM1086 347h3v1h-3zM1089 348h3v1h-3zM1092 349h3v1h-3zM1095 350h3v1h-3zM1098 351h3v1h-3zM1101 352h3v1h-3zM1104 353h3v1h-3zM1107 354h3v1h-3zM1110 355h3v1h-3zM1113 356h3v1h-3zM1116 357h3v1h-3zM1119 358h3v1h-3zM1122 359h3v1h-3zM1125 360h3v1h-3zM1128 361h3v1h-3zM1131 362h3v1h-3zM1134 363h3v1h-3zM1137 364h3v1h-3zM1140 365h3v1h-3zM1143 366h3v1h-3zM1146 367h3v1h-3zM1149 368h3v1h-3zM1152 369h3v1h-3zM1155 370h3v1h-3zM1158 371h3v1h-3zM1161 372h3v1h-3zM1164 373h3v1h-3zM1167 374h3v1h-3zM1170 375h3v1h-3zM1173 376h3v1h-3zM1176 377h3v1h-3zM1179 378h3v1h-3zM1182 379h3v1h-3zM1185 380h3v1h-3zM1188 381h3v1h-3zM1191 382h3v1h-3zM1194 383h3v1h-3zM1197 384h3v1h-3zM1200 385h3v1h-3zM1203 386h3v1h-3zM1206 387h3v1h-3zM1209 388h3v1h-3zM1212 389h3v1h-3zM1215 390h3v1h-3zM1218 391h3v1h-3zM1221 392h3v1h-3zM1224 393h3v1h-3zM1227 394h3v1h-3zM1230 395h3v1h-3zM1233 396h3v1h-3zM1236 397h3v1h-3zM1239 398h3v1h-3zM1242 399h3v1h-3zM1245 400h3v1h-3zM1248 401h3v1h-3zM1251 402h3v1h-3zM1254 403h3v1h-3zM1257 404h3v1h-3zM1260 405h3v1h-3zM1263 406h3v1h-3zM1266 407h3v1h-3zM1269 408h3v1h-3zM1272 409h3v1h-3zM1275 410h3v1h-3zM1278 411h3v1h-3zM1281 412h3v1h-3zM1284 413h3v1h-3zM1287 414h3v1h-3zM1290 415h3v1h-3zM1293 416h3v1h-3zM1296 417h3v1h-3zM1299 418h3v1h-3zM1302 419h3v1h-3zM1305 420h3v1h-3zM1308 421h3v1h-3zM1311 422h3v1h-3zM1314 423h3v1h-3zM1317 424h3v1h-3zM1320 425h3v1h-3zM1323 426h3v1h-3zM1326 427h3v1h-3zM1329 428h3v1h-3zM1332 429h3v1h-3zM1335 430h3v1h-3zM1338 431h3v1h-3zM1341 432h3v1h-3zM1344 433h3v1h-3zM1347 434h3v1h-3zM1350 435h3v1h-3zM1353 436h3v1h-3zM1356 437h3v1h-3zM1359 438h3v1h-3zM1362 439h3v1h-3zM1365 440h3v1h-3zM1368 441h3v1h-3zM1371 442h3v1h-3zM1374 443h3v1h-3zM1377 444h3v1h-3zM1380 445h3v1h-3zM1383 446h3v1h-3zM1386 447h3v1h-3zM1389 448h3v1h-3zM1392 449h3v1h-3zM1395 450h3v1h-3zM1398 451h3v1h-3zM1401 452h3v1h-3zM1404 453h3v1h-3zM1407 454h3v1h-3zM1410 455h3v1h-3zM1413 456h3v1h-3zM1416 457h3v1h-3zM1419 458h3v1h-3zM1422 459h3v1h-3zM1425 460h3v1h-3zM1428 461h3v1h-3zM1431 462h3v1h-3zM1434 463h3v1h-3zM1437 464h3v1h-3zM1440 465h3v1h-3zM1443 466h3v1h-3zM1446 467h3v1h-3zM1449 468h3v1h-3zM1452 469h3v1h-3zM1455 470h3v1h-3zM1458 471h3v1h-3zM1461 472h3v1h-3zM1464 473h3v1h-3zM1467 474h3v1h-3zM1470 475h3v1h-3zM1473 476h3v1h-3zM1476 477h3v1h-3zM1479 478h3v1h-3zM1482 479h3v1h-3zM1485 480h3v1h-3zM1488 481h3v1h-3zM1491 482h3v1h-3zM1494 483h3v1h-3zM1497 484h3v1h-3zM1500 485h3v1h-3zM1503 486h3v1h-3zM1506 487h3v1h-3zM1509 488h3v1h-3zM1512 489h3v1h-3zM1515 490h3v1h-3zM1518 491h3v1h-3zM1521 492h3v1h-3zM1524 493h3v1h-3zM1527 494h3v1h-3zM1530 495h3v1h-3zM1533 496h3v1h-3zM1536 497h3v1h-3zM1539 498h3v1h-3zM1542 499h3v1h-3zM1545 500h3v1h-3zM1548 501h3v1h-3zM1551 502h3v1h-3zM1554 503h3v1h-3zM1557 504h3v1h-3zM1560 505h3v1h-3zM1563 506h3v1h-3zM1566 507h3v1h-3zM1569 508h3v1h-3zM1572 509h3v1h-3zM1575 510h3v1h-3zM1578 511h3v1h-3zM1581 512h3v1h-3zM1584 513h3v1h-3zM1587 514h3v1h-3zM1590 515h3v1h-3zM1593 516h3v1h-3zM1596 517h3v1h-3zM1599 518h3v1h-3zM1602 519h3v1h-3zM1605 520h3v1h-3zM1608 521h3v1h-3zM1611 522h3v1h-3zM1614 523h3v1h-3zM1617 524h3v1h-3zM1620 525h3v1h-3zM1623 526h3v1h-3zM1626 527h3v1h-3zM1629 528h3v1h-3zM1632 529h3v1h-3zM1635 530h3v1h-3zM1638 531h3v1h-3zM1641 532h3v1h-3zM1644 533h3v1h-3zM1647 534h3v1h-3zM1650 535h3v1h-3zM1653 536h3v1h-3zM1656 537h3v1h-3zM1659 538h3v1h-3zM1662 539h3v1h-3zM1665 540h3v1h-3zM1668 541h3v1h-3zM1671 542h3v1h-3zM1674 543h3v1h-3zM1677 544h3v1h-3zM1680 545h3v1h-3zM1683 546h3v1h-3zM1686 547h3v1h-3zM1689 548h3v1h-3zM1692 549h3v1h-3zM1695 550h3v1h-3zM1698 551h3v1h-3zM1701 552h3v1h-3zM1704 553h3v1h-3zM1707 554h3v1h-3zM1710 555h3v1h-3zM1713 556h3v1h-3zM1716 557h3v1h-3zM1719 558h3v1h-3zM1722 559h3v1h-3zM1725 560h3v1h-3zM1728 561h3v1h-3zM1731 562h3v1h-3zM1734 563h3v1h-3zM1737 564h3v1h-3zM1740 565h3v1h-3zM1743 566h3v1h-3zM1746 567h3v1h-3zM1749 568h3v1h-3zM1752 569h3v1h-3zM1755 570h3v1h-3zM1758 571h3v1h-3zM1761 572h3v1h-3zM1764 573h3v1h-3zM1767 574h3v1h-3zM1770 575h3v1h-3zM1773 576h3v1h-3zM1776 577h3v1h-3zM1779 578h3v1h-3zM1782 579h3v1h-3zM1785 580h3v1h-3zM1788 581h3v1h-3zM1791 582h3v1h-3zM1794 583h3v1h-3zM1797 584h3v1h-3zM1800 585h3v1h-3zM1803 586h3v1h-3zM1806 587h3v1h-3zM1809 588h3v1h-3zM1812 589h3v1h-3zM1815 590h3v1h-3zM1818 591h3v1h-3zM1821 592h3v1h-3zM1824 593h3v1h-3zM1827 594h3v1h-3zM1830 595h3v1h-3zM1833 596h3v1h-3zM1836 597h3v1h-3zM1839 598h3v1h-3zM1842 599h3v1h-3zM1845 600h3v1h-3zM1848 601h3v1h-3zM1851 602h3v1h-3zM1854 603h3v1h-3zM1857 604h3v1h-3zM1860 605h3v1h-3zM1863 606h3v1h-3zM1866 607h3v1h-3zM1869 608h3v1h-3zM1872 609h1v1h-1z" fill="#FF4A2A"/>
<path d="M96 36h1v1h-1zM96 37h1v1h-1zM97 38h1v1h-1zM98 42h1v1h-1zM98 43h1v1h-1zM99 44h1v1h-1zM100 48h1v1h-1zM100 49h1v1h-1zM101 50h1v1h-1zM102 54h1v1h-1zM103 55h1v1h-1zM103 56h1v1h-1zM104 60h1v1h-1zM105 61h1v1h-1zM105 62h1v1h-1zM106 66h1v1h-1zM107 67h1v1h-1zM107 68h1v1h-1zM108 72h1v1h-1zM109 73h1v1h-1zM109 74h1v1h-1zM110 78h1v1h-1zM111 79h1v1h-1zM111 80h1v1h-1zM112 84h1v1h-1zM113 85h1v1h-1zM113 86h1v1h-1zM114 90h1v1h-1zM115 91h1v1h-1zM115 92h1v1h-1zM117 96h1v1h-1zM117 97h1v1h-1zM117 98h1v1h-1zM119 102h1v1h-1zM119 103h1v1h-1zM119 104h1v1h-1zM121 108h1v1h-1zM121 109h1v1h-1zM121 110h1v1h-1zM123 114h1v1h-1zM123 115h1v1h-1zM123 116h1v1h-1zM125 120h1v1h-1zM125 121h1v1h-1zM125 122h1v1h-1zM127 126h1v1h-1zM127 127h1v1h-1zM127 128h1v1h-1zM129 132h1v1h-1zM129 133h1v1h-1zM130 134h1v1h-1zM131 138h1v1h-1zM131 139h1v1h-1zM132 140h1v1h-1zM133 144h1v1h-1zM133 145h1v1h-1zM134 146h1v1h-1zM135 150h1v1h-1zM135 151h1v1h-1zM136 152h1v1h-1zM137 156h1v1h-1zM137 157h1v1h-1zM138 158h1v1h-1zM139 162h1v1h-1zM139 163h1v1h-1zM140 164h1v1h-1zM141 168h1v1h-1zM142 169h1v1h-1zM142 170h1v1h-1zM143 174h1v1h-1zM144 175h1v1h-1zM144 176h1v1h-1zM145 180h1v1h-1zM146 181h1v1h-1zM146 182h1v1h-1zM147 186h1v1h-1zM148 187h1v1h-1zM148 188h1v1h-1zM149 192h1v1h-1zM150 193h1v1h-1zM150 194h1v1h-1zM151 198h1v1h-1zM152 199h1v1h-1zM152 200h1v1h-1zM153 204h1v1h-1zM154 205h1v1h-1zM154 206h1v1h-1zM156 210h1v1h-1zM156 211h1v1h-1zM156 212h1v1h-1zM158 216h1v1h-1zM158 217h1v1h-1zM158 218h1v1h-1zM160 222h1v1h-1zM160 223h1v1h-1zM160 224h1v1h-1zM162 228h1v1h-1zM162 229h1v1h-1zM162 230h1v1h-1zM164 234h1v1h-1zM164 235h1v1h-1zM164 236h1v1h-1zM166 240h1v1h-1zM166 241h1v1h-1zM166 242h1v1h-1zM168 246h1v1h-1zM168 247h1v1h-1zM169 248h1v1h-1zM170 252h1v1h-1zM170 253h1v1h-1zM171 254h1v1h-1zM172 258h1v1h-1zM172 259h1v1h-1zM173 260h1v1h-1zM174 264h1v1h-1zM174 265h1v1h-1zM175 266h1v1h-1zM176 270h1v1h-1zM176 271h1v1h-1zM177 272h1v1h-1zM178 276h1v1h-1zM178 277h1v1h-1zM179 278h1v1h-1zM180 282h1v1h-1zM181 283h1v1h-1zM181 284h1v1h-1zM182 288h1v1h-1zM183 289h1v1h-1zM183 290h1v1h-1zM184 294h1v1h-1zM185 295h1v1h-1zM185 296h1v1h-1zM186 300h1v1h-1zM187 301h1v1h-1zM187 302h1v1h-1zM188 306h1v1h-1zM189 307h1v1h-1zM189 308h1v1h-1zM190 312h1v1h-1zM191 313h1v1h-1zM191 314h1v1h-1zM192 318h1v1h-1zM193 319h1v1h-1zM193 320h1v1h-1zM195 324h1v1h-1zM195 325h1v1h-1zM195 326h1v1h-1zM197 330h1v1h-1zM197 331h1v1h-1zM197 332h1v1h-1zM199 336h1v1h-1zM199 337h1v1h-1zM199 338h1v1h-1zM201 342h1v1h-1zM201 343h1v1h-1zM201 344h1v1h-1zM203 348h1v1h-1zM203 349h1v1h-1zM203 350h1v1h-1zM205 354h1v1h-1zM205 355h1v1h-1zM205 356h1v1h-1zM207 360h1v1h-1zM207 361h1v1h-1zM208 362h1v1h-1zM209 366h1v1h-1zM209 367h1v1h-1zM210 368h1v1h-1zM211 372h1v1h-1zM211 373h1v1h-1zM212 374h1v1h-1zM213 378h1v1h-1zM213 379h1v1h-1zM214 380h1v1h-1zM215 384h1v1h-1zM215 385h1v1h-1zM216 386h1v1h-1zM217 390h1v1h-1zM217 391h1v1h-1zM218 392h1v1h-1zM219 396h1v1h-1zM220 397h1v1h-1zM220 398h1v1h-1zM221 402h1v1h-1zM222 403h1v1h-1zM222 404h1v1h-1zM223 408h1v1h-1zM224 409h1v1h-1zM224 410h1v1h-1zM225 414h1v1h-1zM226 415h1v1h-1zM226 416h1v1h-1zM227 420h1v1h-1zM228 421h1v1h-1zM228 422h1v1h-1zM229 426h1v1h-1zM230 427h1v1h-1zM230 428h1v1h-1zM231 432h1v1h-1zM232 433h1v1h-1zM232 434h1v1h-1zM234 438h1v1h-1zM234 439h1v1h-1zM234 440h1v1h-1zM236 444h1v1h-1zM236 445h1v1h-1zM236 446h1v1h-1zM238 450h1v1h-1zM238 451h1v1h-1zM238 452h1v1h-1zM240 456h1v1h-1zM240 457h1v1h-1zM240 458h1v1h-1zM242 462h1v1h-1zM242 463h1v1h-1zM242 464h1v1h-1zM244 468h1v1h-1zM244 469h1v1h-1zM244 470h1v1h-1zM246 474h1v1h-1zM246 475h1v1h-1zM247 476h1v1h-1zM248 480h1v1h-1zM248 481h1v1h-1zM249 482h1v1h-1zM250 486h1v1h-1zM250 487h1v1h-1zM251 488h1v1h-1zM252 492h1v1h-1zM252 493h1v1h-1zM253 494h1v1h-1zM254 498h1v1h-1zM254 499h1v1h-1zM255 500h1v1h-1zM256 504h1v1h-1zM256 505h1v1h-1zM257 506h1v1h-1zM258 510h1v1h-1zM259 511h1v1h-1zM259 512h1v1h-1zM260 516h1v1h-1zM261 517h1v1h-1zM261 518h1v1h-1zM262 522h1v1h-1zM263 523h1v1h-1zM263 524h1v1h-1zM264 528h1v1h-1zM265 529h1v1h-1zM265 530h1v1h-1zM266 534h1v1h-1zM267 535h1v1h-1zM267 536h1v1h-1zM268 540h1v1h-1zM269 541h1v1h-1zM269 542h1v1h-1zM270 546h1v1h-1zM271 547h1v1h-1zM271 548h1v1h-1zM273 552h1v1h-1zM273 553h1v1h-1zM273 554h1v1h-1zM275 558h1v1h-1zM275 559h1v1h-1zM275 560h1v1h-1zM277 564h1v1h-1zM277 565h1v1h-1zM277 566h1v1h-1zM279 570h1v1h-1zM279 571h1v1h-1zM279 572h1v1h-1zM281 576h1v1h-1zM281 577h1v1h-1zM281 578h1v1h-1zM283 582h1v1h-1zM283 583h1v1h-1zM283 584h1v1h-1zM285 588h1v1h-1zM285 589h1v1h-1zM286 590h1v1h-1zM287 594h1v1h-1zM287 595h1v1h-1zM288 596h1v1h-1zM289 600h1v1h-1zM289 601h1v1h-1zM290 602h1v1h-1zM291 606h1v1h-1zM291 607h1v1h-1zM292 608h1v1h-1zM293 612h1v1h-1zM293 613h1v1h-1zM294 614h1v1h-1zM295 618h1v1h-1zM295 619h1v1h-1zM296 620h1v1h-1zM297 624h1v1h-1zM298 625h1v1h-1zM298 626h1v1h-1zM299 630h1v1h-1zM300 631h1v1h-1zM300 632h1v1h-1zM301 636h1v1h-1zM302 637h1v1h-1zM302 638h1v1h-1z" fill="#FF0000"/>
<path d="M1629 169h1v1h-1zM1628 170h1v1h-1zM1626 174h1v1h-1zM1626 175h1v1h-1zM1625 176h1v1h-1zM1623 180h1v1h-1zM1622 181h1v1h-1zM1621 182h1v1h-1zM1619 186h1v1h-1zM1619 187h1v1h-1zM1618 188h1v1h-1zM1616 192h1v1h-1zM1615 193h1v1h-1zM1615 194h1v1h-1zM1612 198h1v1h-1zM1612 199h1v1h-1zM1611 200h1v1h-1zM1609 204h1v1h-1zM1608 205h1v1h-1zM1608 206h1v1h-1zM1605 210h1v1h-1zM1605 211h1v1h-1zM1604 212h1v1h-1zM1602 216h1v1h-1zM1601 217h1v1h-1zM1601 218h1v1h-1zM1598 222h1v1h-1zM1598 223h1v1h-1zM1597 224h1v1h-1zM1595 228h1v1h-1zM1594 229h1v1h-1zM1594 230h1v1h-1zM1591 234h1v1h-1zM1591 235h1v1h-1zM1590 236h1v1h-1zM1588 240h1v1h-1zM1587 241h1v1h-1zM1587 242h1v1h-1zM1584 246h1v1h-1zM1584 247h1v1h-1zM1583 248h1v1h-1zM1581 252h1v1h-1zM1580 253h1v1h-1zM1580 254h1v1h-1zM1577 258h1v1h-1zM1577 259h1v1h-1zM1576 260h1v1h-1zM1574 264h1v1h-1zM1573 265h1v1h-1zM1573 266h1v1h-1zM1571 270h1v1h-1zM1570 271h1v1h-1zM1569 272h1v1h-1zM1567 276h1v1h-1zM1566 277h1v1h-1zM1566 278h1v1h-1zM1564 282h1v1h-1zM1563 283h1v1h-1zM1562 284h1v1h-1zM1560 288h1v1h-1zM1560 289h1v1h-1zM1559 290h1v1h-1zM1557 294h1v1h-1zM1556 295h1v1h-1zM1555 296h1v1h-1zM1553 300h1v1h-1zM1553 301h1v1h-1zM1552 302h1v1h-1zM1550 306h1v1h-1zM1549 307h1v1h-1zM1549 308h1v1h-1zM1546 312h1v1h-1zM1546 313h1v1h-1zM1545 314h1v1h-1zM1543 318h1v1h-1zM1542 319h1v1h-1zM1542 320h1v1h-1zM1539 324h1v1h-1zM1539 325h1v1h-1zM1538 326h1v1h-1zM1536 330h1v1h-1zM1535 331h1v1h-1zM1535 332h1v1h-1zM1532 336h1v1h-1zM1532 337h1v1h-1zM1531 338h1v1h-1zM1529 342h1v1h-1zM1528 343h1v1h-1zM1528 344h1v1h-1zM1525 348h1v1h-1zM1525 349h1v1h-1zM1524 350h1v1h-1zM1522 354h1v1h-1zM1521 355h1v1h-1zM1521 356h1v1h-1zM1518 360h1v1h-1zM1518 361h1v1h-1zM1517 362h1v1h-1zM1515 366h1v1h-1zM1514 367h1v1h-1zM1514 368h1v1h-1zM1511 372h1v1h-1zM1511 373h1v1h-1zM1510 374h1v1h-1zM1508 378h1v1h-1zM1507 379h1v1h-1zM1507 380h1v1h-1zM1505 384h1v1h-1zM1504 385h1v1h-1zM1503 386h1v1h-1zM1501 390h1v1h-1zM1500 391h1v1h-1zM1500 392h1v1h-1zM1498 396h1v1h-1zM1497 397h1v1h-1zM1496 398h1v1h-1zM1494 402h1v1h-1zM1494 403h1v1h-1zM1493 404h1v1h-1zM1491 408h1v1h-1zM1490 409h1v1h-1zM1489 410h1v1h-1zM1487 414h1v1h-1zM1487 415h1v1h-1zM1486 416h1v1h-1zM1484 420h1v1h-1zM1483 421h1v1h-1zM1483 422h1v1h-1zM1480 426h1v1h-1zM1480 427h1v1h-1zM1479 428h1v1h-1zM1477 432h1v1h-1zM1476 433h1v1h-1zM1476 434h1v1h-1zM1473 438h1v1h-1zM1473 439h1v1h-1zM1472 440h1v1h-1zM1470 444h1v1h-1zM1469 445h1v1h-1zM1469 446h1v1h-1zM1466 450h1v1h-1zM1466 451h1v1h-1zM1465 452h1v1h-1zM1463 456h1v1h-1zM1462 457h1v1h-1zM1462 458h1v1h-1zM1459 462h1v1h-1zM1459 463h1v1h-1zM1458 464h1v1h-1zM1456 468h1v1h-1zM1455 469h1v1h-1zM1455 470h1v1h-1zM1452 474h1v1h-1zM1452 475h1v1h-1zM1451 476h1v1h-1zM1449 480h1v1h-1zM1448 481h1v1h-1zM1448 482h1v1h-1zM1445 486h1v1h-1zM1445 487h1v1h-1zM1444 488h1v1h-1zM1442 492h1v1h-1zM1441 493h1v1h-1zM1441 494h1v1h-1zM1439 498h1v1h-1zM1438 499h1v1h-1zM1437 500h1v1h-1zM1435 504h1v1h-1zM1434 505h1v1h-1zM1434 506h1v1h-1zM1432 510h1v1h-1zM1431 511h1v1h-1zM1430 512h1v1h-1zM1428 516h1v1h-1zM1428 517h1v1h-1zM1427 518h1v1h-1zM1425 522h1v1h-1zM1424 523h1v1h-1zM1423 524h1v1h-1zM1421 528h1v1h-1zM1421 529h1v1h-1zM1420 530h1v1h-1z" fill="#FF0000"/>
<path d="M1871 319h2v1h-2zM1869 320h2v1h-2zM1867 321h2v1h-2zM1865 322h2v1h-2zM1863 323h2v1h-2zM1861 324h2v1h-2zM1858 325h3v1h-3zM1856 326h2v1h-2zM1854 327h2v1h-2zM1852 328h2v1h-2zM1850 329h2v1h-2zM1848 330h2v1h-2zM1846 331h2v1h-2zM1844 332h2v1h-2zM1842 333h2v1h-2zM1839 334h3v1h-3zM1837 335h2v1h-2zM1835 336h2v1h-2zM1833 337h2v1h-2zM1831 338h2v1h-2zM1829 339h2v1h-2zM1827 340h2v1h-2zM1825 341h2v1h-2zM1823 342h2v1h-2zM1820 343h3v1h-3zM1818 344h2v1h-2zM1816 345h2v1h-2zM1814 346h2v1h-2zM1812 347h2v1h-2zM1810 348h2v1h-2zM1808 349h2v1h-2zM1806 350h2v1h-2zM1804 351h2v1h-2zM1801 352h3v1h-3zM1799 353h2v1h-2zM1797 354h2v1h-2zM1795 355h2v1h-2zM1793 356h2v1h-2zM1791 357h2v1h-2zM1789 358h2v1h-2zM1787 359h2v1h-2zM1785 360h2v1h-2zM1782 361h3v1h-3zM1780 362h2v1h-2zM1778 363h2v1h-2zM1776 364h2v1h-2zM1774 365h2v1h-2zM1772 366h2v1h-2zM1770 367h2v1h-2zM1768 368h2v1h-2zM1765 369h3v1h-3zM1763 370h2v1h-2zM1761 371h2v1h-2zM1759 372h2v1h-2zM1757 373h2v1h-2zM1755 374h2v1h-2zM1753 375h2v1h-2zM1751 376h2v1h-2zM1749 377h2v1h-2zM1746 378h3v1h-3zM1744 379h2v1h-2zM1742 380h2v1h-2zM1740 381h2v1h-2zM1738 382h2v1h-2zM1736 383h2v1h-2zM1734 384h2v1h-2zM1732 385h2v1h-2zM1730 386h2v1h-2zM1727 387h3v1h-3zM1725 388h2v1h-2zM1723 389h2v1h-2zM1721 390h2v1h-2zM1719 391h2v1h-2zM1717 392h2v1h-2zM1715 393h2v1h-2zM1713 394h2v1h-2zM1711 395h2v1h-2zM1708 396h3v1h-3zM1706 397h2v1h-2zM1704 398h2v1h-2zM1702 399h2v1h-2zM1700 400h2v1h-2zM1698 401h2v1h-2zM1696 402h2v1h-2zM1694 403h2v1h-2zM1692 404h2v1h-2zM1689 405h3v1h-3zM1687 406h2v1h-2zM1685 407h2v1h-2zM1683 408h2v1h-2zM1681 409h2v1h-2zM1679 410h2v1h-2zM1677 411h2v1h-2zM1675 412h2v1h-2zM1673 413h2v1h-2zM1670 414h3v1h-3zM1668 415h2v1h-2zM1666 416h2v1h-2zM1664 417h2v1h-2zM1662 418h2v1h-2zM1660 419h2v1h-2zM1658 420h2v1h-2zM1656 421h2v1h-2zM1654 422h2v1h-2zM1651 423h3v1h-3zM1649 424h2v1h-2zM1647 425h2v1h-2zM1645 426h2v1h-2zM1643 427h2v1h-2zM1641 428h2v1h-2zM1639 429h2v1h-2zM1637 430h2v1h-2zM1635 431h2v1h-2zM1632 432h3v1h-3zM1630 433h2v1h-2zM1628 434h2v1h-2zM1626 435h2v1h-2zM1624 436h2v1h-2zM1622 437h2v1h-2zM1620 438h2v1h-2zM1618 439h2v1h-2zM1615 440h3v1h-3zM1613 441h2v1h-2zM1611 442h2v1h-2zM1609 443h2v1h-2zM1607 444h2v1h-2zM1605 445h2v1h-2zM1603 446h2v1h-2zM1601 447h2v1h-2zM1599 448h2v1h-2zM1596 449h3v1h-3zM1594 450h2v1h-2zM1592 451h2v1h-2zM1590 452h2v1h-2zM1588 453h2v1h-2zM1586 454h2v1h-2zM1584 455h2v1h-2zM1582 456h2v1h-2zM1580 457h2v1h-2zM1577 458h3v1h-3zM1575 459h2v1h-2zM1573 460h2v1h-2zM1571 461h2v1h-2zM1569 462h2v1h-2zM1567 463h2v1h-2zM1565 464h2v1h-2zM1563 465h2v1h-2zM1561 466h2v1h-2zM1558 467h3v1h-3zM1556 468h2v1h-2zM1554 469h2v1h-2zM1552 470h2v1h-2zM1550 471h2v1h-2zM1548 472h2v1h-2zM1546 473h2v1h-2zM1544 474h2v1h-2zM1542 475h2v1h-2zM1539 476h3v1h-3zM1537 477h2v1h-2zM1535 478h2v1h-2zM1533 479h2v1h-2zM1531 480h2v1h-2zM1529 481h2v1h-2zM1527 482h2v1h-2zM1525 483h2v1h-2zM1523 484h2v1h-2zM1520 485h3v1h-3zM1518 486h2v1h-2zM1516 487h2v1h-2zM1514 488h2v1h-2zM1512 489h2v1h-2zM1510 490h2v1h-2zM1508 491h2v1h-2zM1506 492h2v1h-2zM1504 493h2v1h-2zM1501 494h3v1h-3zM1499 495h2v1h-2zM1497 496h2v1h-2zM1495 497h2v1h-2zM1493 498h2v1h-2zM1491 499h2v1h-2zM1489 500h2v1h-2zM1487 501h2v1h-2zM1484 502h3v1h-3zM1482 503h2v1h-2zM1480 504h2v1h-2zM1478 505h2v1h-2zM1476 506h2v1h-2zM1474 507h2v1h-2zM1472 508h2v1h-2zM1470 509h2v1h-2zM1468 510h2v1h-2zM1465 511h3v1h-3zM1463 512h2v1h-2zM1461 513h2v1h-2zM1459 514h2v1h-2zM1457 515h2v1h-2zM1455 516h2v1h-2zM1453 517h2v1h-2zM1451 518h2v1h-2zM1449 519h2v1h-2zM1446 520h3v1h-3zM1444 521h2v1h-2zM1442 522h2v1h-2zM1440 523h2v1h-2zM1438 524h2v1h-2zM1436 525h2v1h-2zM1434 526h2v1h-2zM1432 527h2v1h-2zM1431 528h1v1h-1z" fill="#FF0000"/>
<rect x="1426.0" y="527.0" width="5" height="5" fill="#FDF5E6" stroke="#FF0000" stroke-width="1"/>
<rect x="1632.0" y="430.0" width="5" height="5" fill="#FDF5E6" stroke="#FF0000" stroke-width="1"/>
<rect x="1838.0" y="332.0" width="5" height="5" fill="#FDF5E6" stroke="#FF0000" stroke-width="1"/>
<rect x="1418" y="527.5" width="5" height="5" fill="none" stroke="#FF0000" stroke-width="1" stroke-dasharray="2 2"/>
<rect x="1627" y="167" width="5" height="5" fill="none" stroke="#FF0000" stroke-width="1" stroke-dasharray="2 2"/>
<text x="1872" y="33.5" fill="#FF0000" font-size="9.6" text-anchor="end" textLength="23.5" lengthAdjust="spacingAndGlyphs" stroke="#FF0000" stroke-width="0.25">100.0</text>
<text x="1872" y="166.5" fill="#FF0000" font-size="9.6" text-anchor="end" textLength="10.5" lengthAdjust="spacingAndGlyphs" stroke="#FF0000" stroke-width="0.25">78</text>
<text x="1872" y="264.5" fill="#FF0000" font-size="9.6" text-anchor="end" textLength="18.5" lengthAdjust="spacingAndGlyphs" stroke="#FF0000" stroke-width="0.25">61.8</text>
<text x="1872" y="335.5" fill="#FF0000" font-size="9.6" text-anchor="end" textLength="18.5" lengthAdjust="spacingAndGlyphs" stroke="#FF0000" stroke-width="0.25">50.0</text>
<text x="1872" y="407.5" fill="#FF0000" font-size="9.6" text-anchor="end" textLength="18.5" lengthAdjust="spacingAndGlyphs" stroke="#FF0000" stroke-width="0.25">38.2</text>
<text x="1872" y="495.5" fill="#FF0000" font-size="9.6" text-anchor="end" textLength="18.5" lengthAdjust="spacingAndGlyphs" stroke="#FF0000" stroke-width="0.25">23.6</text>
<text x="1872" y="638.5" fill="#FF0000" font-size="9.6" text-anchor="end" textLength="13.8" lengthAdjust="spacingAndGlyphs" stroke="#FF0000" stroke-width="0.25">0.0</text>
<text x="1872" y="152.5" fill="#4682B4" font-size="9.6" text-anchor="end" textLength="18.5" lengthAdjust="spacingAndGlyphs" stroke="#4682B4" stroke-width="0.25">38.2</text>
<text x="1872" y="283.5" fill="#4682B4" font-size="9.6" text-anchor="end" textLength="18.5" lengthAdjust="spacingAndGlyphs" stroke="#4682B4" stroke-width="0.25">50.0</text>
<text x="1872" y="414.5" fill="#4682B4" font-size="9.6" text-anchor="end" textLength="18.5" lengthAdjust="spacingAndGlyphs" stroke="#4682B4" stroke-width="0.25">61.8</text>
<text x="1872" y="594.5" fill="#4682B4" font-size="9.6" text-anchor="end" textLength="10.5" lengthAdjust="spacingAndGlyphs" stroke="#4682B4" stroke-width="0.25">78</text>
<text x="1872" y="167.5" fill="#000" font-size="9.6" text-anchor="end" textLength="13.8" lengthAdjust="spacingAndGlyphs" stroke="#000" stroke-width="0.25">0.0</text>
<text x="1872" y="252.5" fill="#000" font-size="9.6" text-anchor="end" textLength="18.5" lengthAdjust="spacingAndGlyphs" stroke="#000" stroke-width="0.25">23.6</text>
<text x="1872" y="305.5" fill="#000" font-size="9.6" text-anchor="end" textLength="18.5" lengthAdjust="spacingAndGlyphs" stroke="#000" stroke-width="0.25">38.2</text>
<text x="1872" y="347.5" fill="#000" font-size="9.6" text-anchor="end" textLength="18.5" lengthAdjust="spacingAndGlyphs" stroke="#000" stroke-width="0.25">50.0</text>
<text x="1872" y="389.5" fill="#000" font-size="9.6" text-anchor="end" textLength="18.5" lengthAdjust="spacingAndGlyphs" stroke="#000" stroke-width="0.25">61.8</text>
<text x="1872" y="448.5" fill="#000" font-size="9.6" text-anchor="end" textLength="10.5" lengthAdjust="spacingAndGlyphs" stroke="#000" stroke-width="0.25">78</text>
<text x="1872" y="527.5" fill="#000" font-size="9.6" text-anchor="end" textLength="23.5" lengthAdjust="spacingAndGlyphs" stroke="#000" stroke-width="0.25">100.0</text>
<rect x="1874" y="0" width="41" height="865" fill="#FDF5E6"/>
<rect x="1873" y="0" width="1" height="665" fill="#000"/>
<rect x="1873" y="666" width="1" height="177" fill="#000"/>
<rect x="1874" y="22" width="2" height="1" fill="#000"/>
<text x="1879" y="25.8" fill="#000" font-size="9.6" text-anchor="start" textLength="23" lengthAdjust="spacingAndGlyphs" stroke="#000" stroke-width="0.25">86.30</text>
<rect x="1874" y="59" width="2" height="1" fill="#000"/>
<text x="1879" y="62.8" fill="#000" font-size="9.6" text-anchor="start" textLength="23" lengthAdjust="spacingAndGlyphs" stroke="#000" stroke-width="0.25">85.95</text>
<rect x="1874" y="97" width="2" height="1" fill="#000"/>
<text x="1879" y="100.8" fill="#000" font-size="9.6" text-anchor="start" textLength="23" lengthAdjust="spacingAndGlyphs" stroke="#000" stroke-width="0.25">85.60</text>
<rect x="1874" y="134" width="2" height="1" fill="#000"/>
<text x="1879" y="137.8" fill="#000" font-size="9.6" text-anchor="start" textLength="23" lengthAdjust="spacingAndGlyphs" stroke="#000" stroke-width="0.25">85.25</text>
<rect x="1874" y="172" width="2" height="1" fill="#000"/>
<text x="1879" y="175.8" fill="#000" font-size="9.6" text-anchor="start" textLength="23" lengthAdjust="spacingAndGlyphs" stroke="#000" stroke-width="0.25">84.90</text>
<rect x="1874" y="209" width="2" height="1" fill="#000"/>
<text x="1879" y="212.8" fill="#000" font-size="9.6" text-anchor="start" textLength="23" lengthAdjust="spacingAndGlyphs" stroke="#000" stroke-width="0.25">84.55</text>
<rect x="1874" y="246" width="2" height="1" fill="#000"/>
<text x="1879" y="249.8" fill="#000" font-size="9.6" text-anchor="start" textLength="23" lengthAdjust="spacingAndGlyphs" stroke="#000" stroke-width="0.25">84.20</text>
<rect x="1874" y="284" width="2" height="1" fill="#000"/>
<text x="1879" y="287.8" fill="#000" font-size="9.6" text-anchor="start" textLength="23" lengthAdjust="spacingAndGlyphs" stroke="#000" stroke-width="0.25">83.85</text>
<rect x="1874" y="321" width="2" height="1" fill="#000"/>
<text x="1879" y="324.8" fill="#000" font-size="9.6" text-anchor="start" textLength="23" lengthAdjust="spacingAndGlyphs" stroke="#000" stroke-width="0.25">83.50</text>
<rect x="1874" y="359" width="2" height="1" fill="#000"/>
<text x="1879" y="362.8" fill="#000" font-size="9.6" text-anchor="start" textLength="23" lengthAdjust="spacingAndGlyphs" stroke="#000" stroke-width="0.25">83.15</text>
<rect x="1874" y="396" width="2" height="1" fill="#000"/>
<text x="1879" y="399.8" fill="#000" font-size="9.6" text-anchor="start" textLength="23" lengthAdjust="spacingAndGlyphs" stroke="#000" stroke-width="0.25">82.80</text>
<rect x="1874" y="433" width="2" height="1" fill="#000"/>
<text x="1879" y="436.8" fill="#000" font-size="9.6" text-anchor="start" textLength="23" lengthAdjust="spacingAndGlyphs" stroke="#000" stroke-width="0.25">82.45</text>
<rect x="1874" y="471" width="2" height="1" fill="#000"/>
<text x="1879" y="474.8" fill="#000" font-size="9.6" text-anchor="start" textLength="23" lengthAdjust="spacingAndGlyphs" stroke="#000" stroke-width="0.25">82.10</text>
<rect x="1874" y="508" width="2" height="1" fill="#000"/>
<text x="1879" y="511.8" fill="#000" font-size="9.6" text-anchor="start" textLength="23" lengthAdjust="spacingAndGlyphs" stroke="#000" stroke-width="0.25">81.75</text>
<rect x="1874" y="546" width="2" height="1" fill="#000"/>
<text x="1879" y="549.8" fill="#000" font-size="9.6" text-anchor="start" textLength="23" lengthAdjust="spacingAndGlyphs" stroke="#000" stroke-width="0.25">81.40</text>
<rect x="1874" y="583" width="2" height="1" fill="#000"/>
<text x="1879" y="586.8" fill="#000" font-size="9.6" text-anchor="start" textLength="23" lengthAdjust="spacingAndGlyphs" stroke="#000" stroke-width="0.25">81.05</text>
<rect x="1874" y="620" width="2" height="1" fill="#000"/>
<text x="1879" y="623.8" fill="#000" font-size="9.6" text-anchor="start" textLength="23" lengthAdjust="spacingAndGlyphs" stroke="#000" stroke-width="0.25">80.70</text>
<rect x="1874" y="658" width="2" height="1" fill="#000"/>
<text x="1879" y="661.8" fill="#000" font-size="9.6" text-anchor="start" textLength="23" lengthAdjust="spacingAndGlyphs" stroke="#000" stroke-width="0.25">80.35</text>
<rect x="1875" y="71" width="31" height="11" fill="#00C8CD"/>
<text x="1879" y="80.3" fill="#fff" font-size="9.6" text-anchor="start" textLength="23" lengthAdjust="spacingAndGlyphs" stroke="#fff" stroke-width="0.25">85.78</text>
<rect x="1875" y="250" width="31" height="11" fill="#00C8CD"/>
<text x="1879" y="259.3" fill="#fff" font-size="9.6" text-anchor="start" textLength="23" lengthAdjust="spacingAndGlyphs" stroke="#fff" stroke-width="0.25">84.11</text>
<rect x="1875" y="614" width="31" height="11" fill="#00C8CD"/>
<text x="1879" y="623.3" fill="#fff" font-size="9.6" text-anchor="start" textLength="23" lengthAdjust="spacingAndGlyphs" stroke="#fff" stroke-width="0.25">80.70</text>
<rect x="1875" y="171" width="31" height="11" fill="#000"/>
<text x="1879" y="180.3" fill="#fff" font-size="9.6" text-anchor="start" textLength="23" lengthAdjust="spacingAndGlyphs" stroke="#fff" stroke-width="0.25">84.86</text>
<rect x="0" y="664" width="1874" height="1" fill="#000"/>
<rect x="0" y="666" width="1874" height="1" fill="#000"/>
<rect x="0" y="842" width="1874" height="1" fill="#000"/>
<line x1="0" y1="720.5" x2="1873" y2="720.5" stroke="#C0C0C0" stroke-width="1" stroke-dasharray="3 3"/>
<line x1="0" y1="789.5" x2="1873" y2="789.5" stroke="#C0C0C0" stroke-width="1" stroke-dasharray="3 3"/>
<text x="1877.5" y="676.6" fill="#000" font-size="9.6" text-anchor="start" textLength="14" lengthAdjust="spacingAndGlyphs" stroke="#000" stroke-width="0.25">100</text>
<text x="1877.5" y="724.4" fill="#000" font-size="9.6" text-anchor="start" textLength="9.5" lengthAdjust="spacingAndGlyphs" stroke="#000" stroke-width="0.25">70</text>
<text x="1877.5" y="793.3" fill="#000" font-size="9.6" text-anchor="start" textLength="9.5" lengthAdjust="spacingAndGlyphs" stroke="#000" stroke-width="0.25">30</text>
<text x="1877.5" y="838.4" fill="#000" font-size="9.6" text-anchor="start" textLength="4.7" lengthAdjust="spacingAndGlyphs" stroke="#000" stroke-width="0.25">0</text>
<rect x="1874" y="668" width="2" height="1" fill="#000"/>
<polyline points="0.5,744.7 4.5,758.9 8.5,758.3 12.5,766.4 16.5,752.2 20.5,768.7 24.5,753.1 28.5,767.7 32.5,771.5 36.5,768.3 40.5,766.2 44.5,754.8 48.5,736.0 52.5,734.3 56.5,743.3 60.5,745.6 64.5,743.3 68.5,742.2 72.5,746.8 76.5,748.5 80.5,738.0 84.5,733.4 88.5,734.5 92.5,730.3 96.5,735.3 100.5,734.3 104.5,738.5 108.5,736.4 112.5,735.5 116.5,730.3 120.5,730.1 124.5,736.4 128.5,736.4 132.5,733.9 136.5,752.0 140.5,753.7 144.5,760.0 148.5,778.8 152.5,773.6 156.5,762.5 160.5,754.1 164.5,751.2 168.5,755.4 172.5,761.4 176.5,755.4 180.5,758.3 184.5,765.6 188.5,743.9 192.5,760.0 196.5,761.6 200.5,756.4 204.5,747.0 208.5,753.3 212.5,756.4 216.5,771.5 220.5,766.2 224.5,764.2 228.5,765.8 232.5,777.3 236.5,778.8 240.5,776.1 244.5,778.4 248.5,770.0 252.5,774.6 256.5,778.8 260.5,767.3 264.5,776.1 268.5,776.3 272.5,779.2 276.5,781.3 280.5,783.6 284.5,778.1 288.5,783.4 292.5,781.3 296.5,786.7 300.5,785.0 304.5,796.5 308.5,794.4 312.5,793.4 316.5,786.1 320.5,800.1 324.5,803.2 328.5,803.4 332.5,810.1 336.5,813.7 340.5,794.4 344.5,797.2 348.5,792.3 352.5,801.7 356.5,802.8 360.5,783.4 364.5,774.2 368.5,769.4 372.5,774.2 376.5,765.6 380.5,771.5 384.5,777.3 388.5,763.1 392.5,758.3 396.5,752.0 400.5,757.9 404.5,759.3 408.5,759.3 412.5,759.3 416.5,753.1 420.5,752.2 424.5,756.4 428.5,760.4 432.5,757.5 436.5,753.7 440.5,745.4 444.5,742.8 448.5,733.4 452.5,738.5 456.5,739.5 460.5,746.4 464.5,743.9 468.5,734.5 472.5,739.5 476.5,739.5 480.5,738.0 484.5,729.3 488.5,738.5 492.5,732.4 496.5,734.5 500.5,733.2 504.5,752.2 508.5,749.5 512.5,755.4 516.5,755.4 520.5,748.9 524.5,746.0 528.5,736.0 532.5,727.2 536.5,725.1 540.5,750.6 544.5,745.4 548.5,763.5 552.5,761.0 556.5,750.6 560.5,747.4 564.5,739.5 568.5,740.5 572.5,739.5 576.5,745.4 580.5,747.0 584.5,747.0 588.5,748.5 592.5,752.2 596.5,757.5 600.5,765.8 604.5,774.6 608.5,777.3 612.5,779.2 616.5,781.3 620.5,783.4 624.5,781.3 628.5,785.0 632.5,788.2 636.5,780.2 640.5,780.2 644.5,772.9 648.5,767.3 652.5,754.8 656.5,737.6 660.5,758.9 664.5,778.4 668.5,751.6 672.5,741.2 676.5,737.4 680.5,734.5 684.5,746.4 688.5,754.3 692.5,752.7 696.5,751.6 700.5,755.4 704.5,754.3 708.5,755.8 712.5,778.4 716.5,771.9 720.5,770.4 724.5,775.6 728.5,767.3 732.5,758.5 736.5,762.5 740.5,755.4 744.5,766.2 748.5,766.2 752.5,763.5 756.5,772.5 760.5,771.5 764.5,768.3 768.5,763.5 772.5,768.3 776.5,763.1 780.5,756.4 784.5,754.3 788.5,760.0 792.5,766.2 796.5,766.7 800.5,770.0 804.5,775.2 808.5,777.3 812.5,771.5 816.5,765.6 820.5,773.6 824.5,781.3 828.5,778.4 832.5,783.0 836.5,794.4 840.5,793.4 844.5,776.3 848.5,769.4 852.5,770.0 856.5,754.8 860.5,758.3 864.5,756.8 868.5,751.2 872.5,766.2 876.5,764.2 880.5,781.3 884.5,789.2 888.5,792.3 892.5,797.6 896.5,791.3 900.5,793.8 904.5,797.6 908.5,800.1 912.5,802.2 916.5,804.5 920.5,802.4 924.5,802.4 928.5,802.4 932.5,803.4 936.5,787.1 940.5,776.3 944.5,773.1 948.5,769.4 952.5,769.4 956.5,769.4 960.5,773.1 964.5,770.4 968.5,764.6 972.5,776.3 976.5,778.4 980.5,771.5 984.5,774.2 988.5,758.5 992.5,757.3 996.5,759.3 1000.5,773.6 1004.5,762.5 1008.5,753.7 1012.5,741.8 1016.5,739.7 1020.5,735.3 1024.5,738.0 1028.5,733.4 1032.5,739.5 1036.5,736.6 1040.5,718.6 1044.5,711.3 1048.5,710.9 1052.5,720.7 1056.5,750.6 1060.5,751.6 1064.5,737.6 1068.5,735.3 1072.5,739.5 1076.5,743.7 1080.5,736.6 1084.5,736.0 1088.5,731.4 1092.5,731.1 1096.5,729.3 1100.5,728.0 1104.5,718.2 1108.5,719.2 1112.5,720.9 1116.5,730.3 1120.5,726.1 1124.5,724.0 1128.5,723.4 1132.5,723.4 1136.5,724.5 1140.5,734.3 1144.5,731.4 1148.5,726.6 1152.5,725.1 1156.5,724.0 1160.5,715.5 1164.5,739.5 1168.5,739.5 1172.5,733.2 1176.5,727.0 1180.5,746.0 1184.5,760.0 1188.5,762.5 1192.5,760.0 1196.5,748.5 1200.5,751.6 1204.5,768.3 1208.5,789.8 1212.5,793.0 1216.5,776.3 1220.5,768.3 1224.5,748.5 1228.5,741.2 1232.5,746.4 1236.5,749.1 1240.5,745.4 1244.5,745.4 1248.5,740.1 1252.5,737.4 1256.5,736.0 1260.5,735.3 1264.5,735.5 1268.5,741.2 1272.5,734.5 1276.5,735.5 1280.5,738.0 1284.5,736.4 1288.5,758.9 1292.5,747.4 1296.5,746.4 1300.5,751.6 1304.5,757.9 1308.5,762.1 1312.5,762.1 1316.5,761.4 1320.5,761.6 1324.5,773.1 1328.5,773.1 1332.5,768.3 1336.5,769.8 1340.5,750.6 1344.5,741.8 1348.5,737.0 1352.5,733.2 1356.5,734.9 1360.5,754.1 1364.5,752.0 1368.5,752.7 1372.5,764.2 1376.5,758.3 1380.5,761.0 1384.5,761.4 1388.5,763.5 1392.5,761.0 1396.5,786.5 1400.5,762.5 1404.5,768.3 1408.5,776.3 1412.5,760.6 1416.5,758.3 1420.5,761.0 1424.5,778.4 1428.5,776.3 1432.5,760.6 1436.5,764.2 1440.5,763.1 1444.5,761.0 1448.5,759.3 1452.5,759.3 1456.5,763.1 1460.5,762.5 1464.5,760.6 1468.5,756.8 1472.5,751.6 1476.5,753.3 1480.5,752.2 1484.5,752.7 1488.5,755.4 1492.5,755.2 1496.5,747.4 1500.5,734.3 1504.5,736.0 1508.5,736.4 1512.5,748.5 1516.5,736.4 1520.5,734.3 1524.5,734.9 1528.5,733.9 1532.5,720.9 1536.5,718.2 1540.5,719.2 1544.5,724.0 1548.5,716.5 1552.5,708.4 1556.5,715.1 1560.5,714.6 1564.5,744.3 1568.5,726.6 1572.5,743.3 1576.5,738.0 1580.5,737.4 1584.5,740.1 1588.5,734.5 1592.5,742.8 1596.5,741.2 1600.5,749.1 1604.5,755.2 1608.5,757.5 1612.5,756.4 1616.5,756.4 1620.5,756.4 1624.5,757.5 1628.5,737.0 1632.5,732.8 1636.5,733.4 1640.5,730.7 1644.5,730.3 1648.5,732.2 1652.5,729.3 1656.5,729.3 1660.5,734.3 1664.5,730.3 1668.5,731.1 1672.5,728.6 1676.5,739.5 1680.5,737.4 1684.5,734.5 1688.5,771.5 1692.5,777.7 1696.5,784.0 1700.5,790.3 1704.5,781.3 1708.5,778.8 1712.5,767.3 1716.5,764.6 1720.5,772.1 1724.5,762.5 1728.5,759.3 1732.5,755.4 1736.5,758.9 1740.5,729.3 1744.5,751.2 1748.5,748.9 1752.5,757.5 1756.5,756.4 1760.5,743.3 1764.5,738.5 1768.5,732.8 1772.5,731.1 1776.5,729.3 1780.5,729.3 1784.5,733.4 1788.5,732.2 1792.5,733.4 1796.5,737.4 1800.5,732.2 1804.5,734.5 1808.5,737.0 1812.5,739.5 1816.5,736.4 1820.5,734.3 1824.5,736.4 1828.5,742.2 1832.5,747.4 1836.5,753.1 1840.5,756.4 1844.5,761.4 1848.5,762.5 1852.5,737.0 1856.5,725.9 1860.5,729.3 1864.5,729.3" fill="none" stroke="#1E90FF" stroke-width="1" shape-rendering="crispEdges"/>
<text x="4.4" y="679" fill="#000" font-size="9.6" text-anchor="start" textLength="67.8" lengthAdjust="spacingAndGlyphs" stroke="#000" stroke-width="0.25">RSI(14) 64.6775</text>
<rect x="0" y="843" width="1" height="3" fill="#000"/>
<text x="-0.5" y="855" fill="#000" font-size="9.6" text-anchor="start" textLength="50.5" lengthAdjust="spacingAndGlyphs" stroke="#000" stroke-width="0.25">15 Feb 2023</text>
<rect x="64" y="843" width="1" height="3" fill="#000"/>
<text x="63.5" y="855" fill="#000" font-size="9.6" text-anchor="start" textLength="54.6" lengthAdjust="spacingAndGlyphs" stroke="#000" stroke-width="0.25">15 Feb 22:00</text>
<rect x="128" y="843" width="1" height="3" fill="#000"/>
<text x="127.5" y="855" fill="#000" font-size="9.6" text-anchor="start" textLength="54.6" lengthAdjust="spacingAndGlyphs" stroke="#000" stroke-width="0.25">16 Feb 09:00</text>
<rect x="192" y="843" width="1" height="3" fill="#000"/>
<text x="191.5" y="855" fill="#000" font-size="9.6" text-anchor="start" textLength="54.6" lengthAdjust="spacingAndGlyphs" stroke="#000" stroke-width="0.25">16 Feb 17:00</text>
<rect x="256" y="843" width="1" height="3" fill="#000"/>
<text x="255.5" y="855" fill="#000" font-size="9.6" text-anchor="start" textLength="54.6" lengthAdjust="spacingAndGlyphs" stroke="#000" stroke-width="0.25">17 Feb 04:00</text>
<rect x="320" y="843" width="1" height="3" fill="#000"/>
<text x="319.5" y="855" fill="#000" font-size="9.6" text-anchor="start" textLength="54.6" lengthAdjust="spacingAndGlyphs" stroke="#000" stroke-width="0.25">17 Feb 12:00</text>
<rect x="384" y="843" width="1" height="3" fill="#000"/>
<text x="383.5" y="855" fill="#000" font-size="9.6" text-anchor="start" textLength="54.6" lengthAdjust="spacingAndGlyphs" stroke="#000" stroke-width="0.25">17 Feb 20:00</text>
<rect x="448" y="843" width="1" height="3" fill="#000"/>
<text x="447.5" y="855" fill="#000" font-size="9.6" text-anchor="start" textLength="54.6" lengthAdjust="spacingAndGlyphs" stroke="#000" stroke-width="0.25">20 Feb 05:00</text>
<rect x="512" y="843" width="1" height="3" fill="#000"/>
<text x="511.5" y="855" fill="#000" font-size="9.6" text-anchor="start" textLength="54.6" lengthAdjust="spacingAndGlyphs" stroke="#000" stroke-width="0.25">20 Feb 13:00</text>
<rect x="576" y="843" width="1" height="3" fill="#000"/>
<text x="575.5" y="855" fill="#000" font-size="9.6" text-anchor="start" textLength="54.6" lengthAdjust="spacingAndGlyphs" stroke="#000" stroke-width="0.25">20 Feb 21:00</text>
<rect x="640" y="843" width="1" height="3" fill="#000"/>
<text x="639.5" y="855" fill="#000" font-size="9.6" text-anchor="start" textLength="54.6" lengthAdjust="spacingAndGlyphs" stroke="#000" stroke-width="0.25">21 Feb 08:00</text>
<rect x="704" y="843" width="1" height="3" fill="#000"/>
<text x="703.5" y="855" fill="#000" font-size="9.6" text-anchor="start" textLength="54.6" lengthAdjust="spacingAndGlyphs" stroke="#000" stroke-width="0.25">21 Feb 16:00</text>
<rect x="768" y="843" width="1" height="3" fill="#000"/>
<text x="767.5" y="855" fill="#000" font-size="9.6" text-anchor="start" textLength="54.6" lengthAdjust="spacingAndGlyphs" stroke="#000" stroke-width="0.25">22 Feb 03:00</text>
<rect x="832" y="843" width="1" height="3" fill="#000"/>
<text x="831.5" y="855" fill="#000" font-size="9.6" text-anchor="start" textLength="54.6" lengthAdjust="spacingAndGlyphs" stroke="#000" stroke-width="0.25">22 Feb 11:00</text>
<rect x="896" y="843" width="1" height="3" fill="#000"/>
<text x="895.5" y="855" fill="#000" font-size="9.6" text-anchor="start" textLength="54.6" lengthAdjust="spacingAndGlyphs" stroke="#000" stroke-width="0.25">22 Feb 19:00</text>
<rect x="960" y="843" width="1" height="3" fill="#000"/>
<text x="959.5" y="855" fill="#000" font-size="9.6" text-anchor="start" textLength="54.6" lengthAdjust="spacingAndGlyphs" stroke="#000" stroke-width="0.25">23 Feb 06:00</text>
<rect x="1024" y="843" width="1" height="3" fill="#000"/>
<text x="1023.5" y="855" fill="#000" font-size="9.6" text-anchor="start" textLength="54.6" lengthAdjust="spacingAndGlyphs" stroke="#000" stroke-width="0.25">23 Feb 14:00</text>
<rect x="1088" y="843" width="1" height="3" fill="#000"/>
<text x="1087.5" y="855" fill="#000" font-size="9.6" text-anchor="start" textLength="54.6" lengthAdjust="spacingAndGlyphs" stroke="#000" stroke-width="0.25">23 Feb 22:00</text>
<rect x="1152" y="843" width="1" height="3" fill="#000"/>
<text x="1151.5" y="855" fill="#000" font-size="9.6" text-anchor="start" textLength="54.6" lengthAdjust="spacingAndGlyphs" stroke="#000" stroke-width="0.25">24 Feb 09:00</text>
<rect x="1216" y="843" width="1" height="3" fill="#000"/>
<text x="1215.5" y="855" fill="#000" font-size="9.6" text-anchor="start" textLength="54.6" lengthAdjust="spacingAndGlyphs" stroke="#000" stroke-width="0.25">24 Feb 17:00</text>
<rect x="1280" y="843" width="1" height="3" fill="#000"/>
<text x="1279.5" y="855" fill="#000" font-size="9.6" text-anchor="start" textLength="54.6" lengthAdjust="spacingAndGlyphs" stroke="#000" stroke-width="0.25">27 Feb 02:00</text>
<rect x="1344" y="843" width="1" height="3" fill="#000"/>
<text x="1343.5" y="855" fill="#000" font-size="9.6" text-anchor="start" textLength="54.6" lengthAdjust="spacingAndGlyphs" stroke="#000" stroke-width="0.25">27 Feb 10:00</text>
<rect x="1408" y="843" width="1" height="3" fill="#000"/>
<text x="1407.5" y="855" fill="#000" font-size="9.6" text-anchor="start" textLength="54.6" lengthAdjust="spacingAndGlyphs" stroke="#000" stroke-width="0.25">27 Feb 18:00</text>
<rect x="1472" y="843" width="1" height="3" fill="#000"/>
<text x="1471.5" y="855" fill="#000" font-size="9.6" text-anchor="start" textLength="54.6" lengthAdjust="spacingAndGlyphs" stroke="#000" stroke-width="0.25">28 Feb 05:00</text>
<rect x="1536" y="843" width="1" height="3" fill="#000"/>
<text x="1535.5" y="855" fill="#000" font-size="9.6" text-anchor="start" textLength="54.6" lengthAdjust="spacingAndGlyphs" stroke="#000" stroke-width="0.25">28 Feb 13:00</text>
<rect x="1600" y="843" width="1" height="3" fill="#000"/>
<text x="1599.5" y="855" fill="#000" font-size="9.6" text-anchor="start" textLength="54.6" lengthAdjust="spacingAndGlyphs" stroke="#000" stroke-width="0.25">28 Feb 21:00</text>
<rect x="1664" y="843" width="1" height="3" fill="#000"/>
<text x="1663.5" y="855" fill="#000" font-size="9.6" text-anchor="start" textLength="49" lengthAdjust="spacingAndGlyphs" stroke="#000" stroke-width="0.25">1 Mar 08:00</text>
<rect x="1728" y="843" width="1" height="3" fill="#000"/>
<text x="1727.5" y="855" fill="#000" font-size="9.6" text-anchor="start" textLength="49" lengthAdjust="spacingAndGlyphs" stroke="#000" stroke-width="0.25">1 Mar 16:00</text>
<rect x="1792" y="843" width="1" height="3" fill="#000"/>
<text x="1791.5" y="855" fill="#000" font-size="9.6" text-anchor="start" textLength="49" lengthAdjust="spacingAndGlyphs" stroke="#000" stroke-width="0.25">2 Mar 03:00</text>
<rect x="1856" y="843" width="1" height="3" fill="#000"/>
<text x="1855.5" y="855" fill="#000" font-size="9.6" text-anchor="start" textLength="49" lengthAdjust="spacingAndGlyphs" stroke="#000" stroke-width="0.25">2 Mar 11:00</text>
<path d="M3 6.3 L10.7 6.3 L6.85 10.4 Z" fill="#000"/>
<text x="14.9" y="11" fill="#000" font-size="9.6" text-anchor="start" textLength="57.2" lengthAdjust="spacingAndGlyphs" stroke="#000" stroke-width="0.25">XBRUSD,M30</text>
<text x="79.1" y="11" fill="#000" font-size="9.6" text-anchor="start" textLength="100.7" lengthAdjust="spacingAndGlyphs" stroke="#000" stroke-width="0.25">84.87 84.93 84.73 84.86</text>
<path d="M5.8 23.2 L17.2 23.2 L11.5 31.8 Z" fill="#FF0000"/>
<path d="M5.8 631.7 L17.2 631.7 L11.5 641 Z" fill="#FF0000"/>
<text x="21.2" y="32.6" fill="#FF0000" font-size="11.8" text-anchor="start" textLength="29.6" lengthAdjust="spacingAndGlyphs">Daily</text>
<text x="56.8" y="32.6" fill="#FF0000" font-size="11.8" text-anchor="start" textLength="54.2" lengthAdjust="spacingAndGlyphs">Change:</text>
<text x="117.6" y="32.6" fill="#FF0000" font-size="11.8" text-anchor="start" textLength="48" lengthAdjust="spacingAndGlyphs">-0.21%</text>
<text x="21.2" y="47.5" fill="#FF0000" font-size="11.8" text-anchor="start" textLength="46.2" lengthAdjust="spacingAndGlyphs">Weekly</text>
<text x="72.7" y="47.5" fill="#FF0000" font-size="11.8" text-anchor="start" textLength="54.4" lengthAdjust="spacingAndGlyphs">Change:</text>
<text x="134.3" y="47.5" fill="#FF0000" font-size="11.8" text-anchor="start" textLength="47" lengthAdjust="spacingAndGlyphs">-1.85%</text>
<rect x="0" y="124" width="2" height="1" fill="#909090"/>
<rect x="0" y="242" width="2" height="1" fill="#909090"/>
<rect x="0" y="315" width="2" height="1" fill="#909090"/>
<rect x="0" y="365" width="2" height="1" fill="#909090"/>
<rect x="0" y="433" width="2" height="1" fill="#909090"/>
<rect x="0" y="514" width="2" height="1" fill="#909090"/>
<rect x="0" y="531" width="2" height="1" fill="#909090"/>
<rect x="0" y="624" width="2" height="1" fill="#909090"/>
<rect x="0" y="863" width="1915" height="1" fill="#F4F4F2"/>
<rect x="0" y="864" width="1915" height="1" fill="#E8E8E8"/>
<rect x="1913" y="0" width="1" height="865" fill="#F4F4F2"/>
<rect x="1914" y="0" width="1" height="865" fill="#E8E8E8"/>
</svg>
</body></html>
